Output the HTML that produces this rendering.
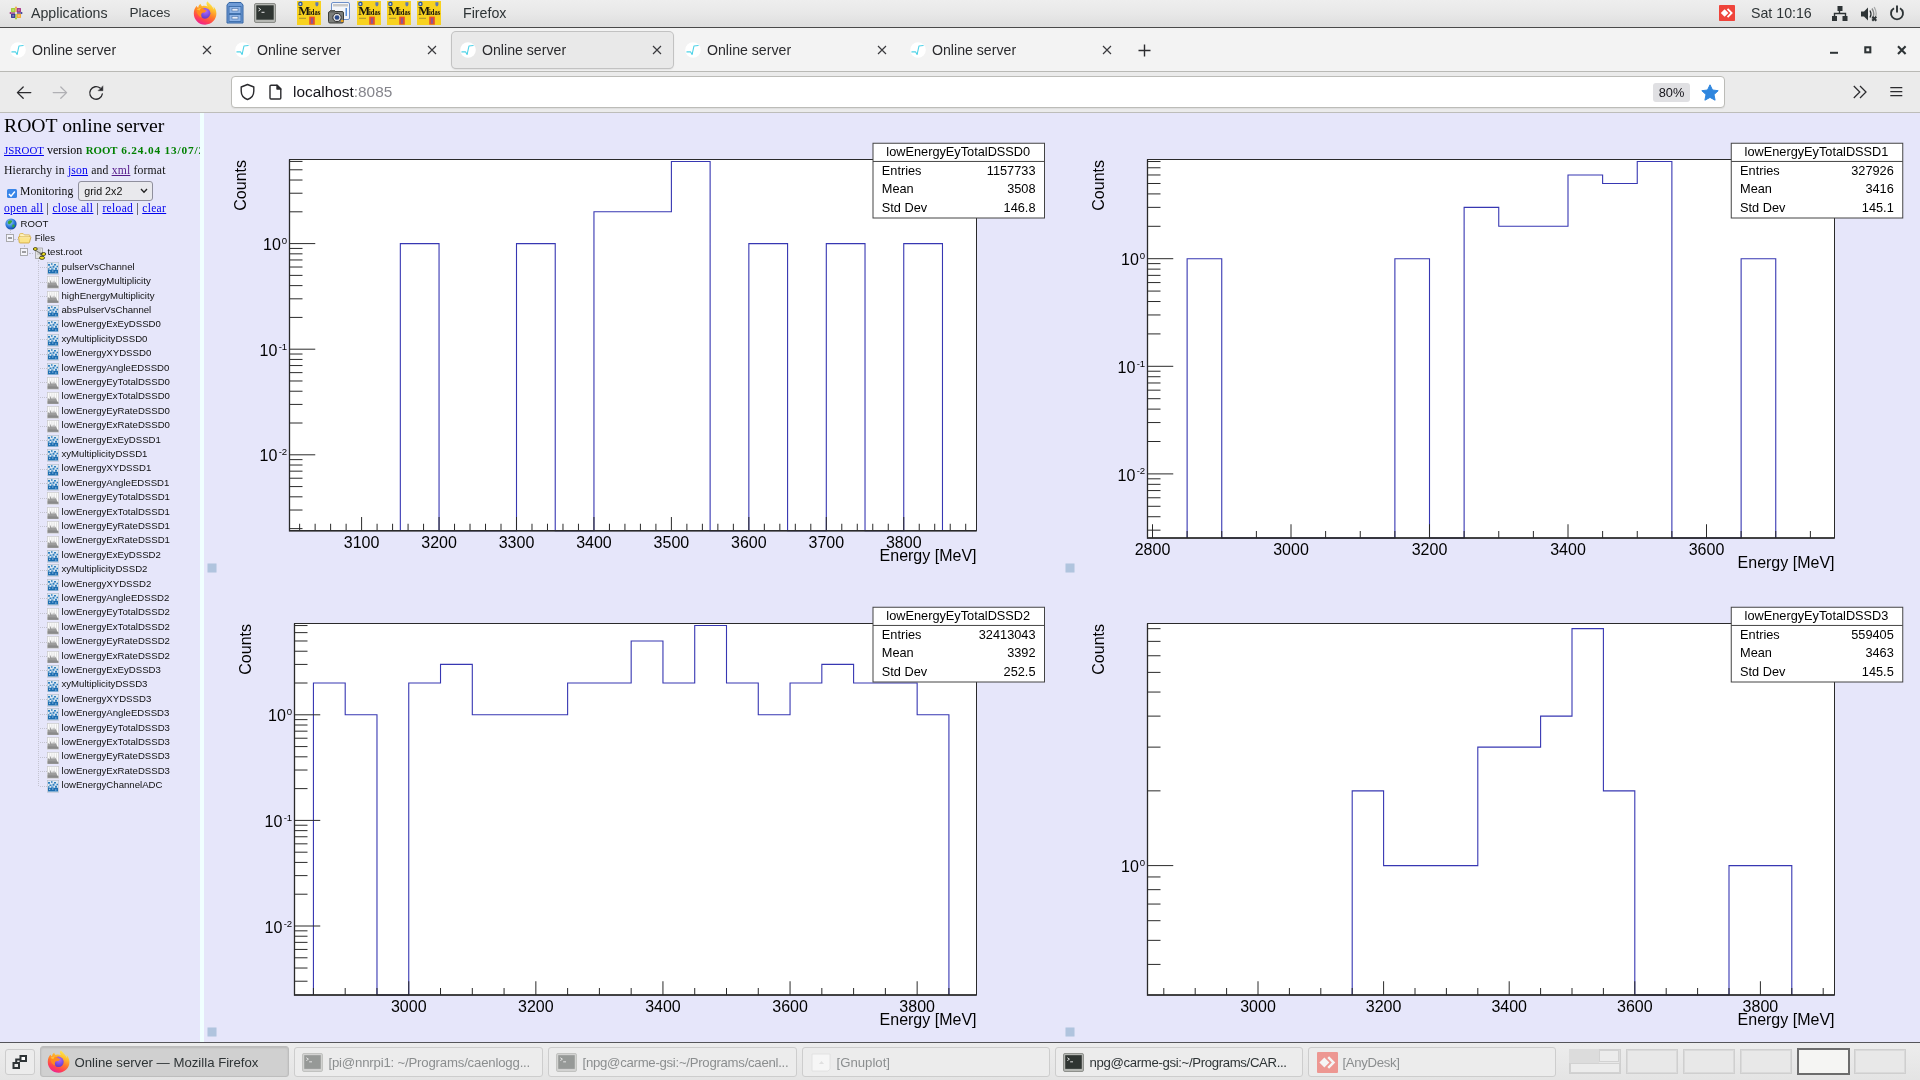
<!DOCTYPE html><html><head><meta charset="utf-8"><title>Online server</title><style>
*{box-sizing:border-box}
html,body{margin:0;padding:0}
body{width:1920px;height:1080px;overflow:hidden;position:relative;background:#e6e6fa;font-family:"Liberation Sans",sans-serif;color:#000}
.abs{position:absolute}
#root{position:absolute;left:0;top:0;width:1920px;height:1080px;overflow:hidden;will-change:transform;opacity:.9999}
#gnome{left:0;top:0;width:1920px;height:28px;background:linear-gradient(#eeeeee,#e8e8e8 50%,#dedede);border-bottom:1px solid #4a4a4a}
#gnome .t{position:absolute;top:0;height:27px;line-height:26px;font-size:14.2px;color:#2e3436;white-space:nowrap}
#tabs{left:0;top:28px;width:1920px;height:44px;background:#f3f3f3;border-bottom:1px solid #b9b9b5}
.tab{position:absolute;top:4px;height:36px;width:222px;border-radius:4px}
.tab.act{background:#e9e9e9;box-shadow:0 0 0 1px #c2c2c2, 0 1px 2px rgba(0,0,0,.22)}
.tab .ttl{position:absolute;left:30px;top:0;line-height:36px;font-size:14.15px;color:#2b2b2e;white-space:nowrap}
.tab svg.fav{position:absolute;left:7.600px;top:10.200px}
.tab svg.x{position:absolute;left:200px;top:13px}
#nav{left:0;top:72px;width:1920px;height:41px;background:#ebebeb;border-bottom:1px solid #bdbdb9}
#url{left:231px;top:4px;width:1494px;height:32px;background:#fff;border:1px solid #bcbcb8;border-radius:4px;box-shadow:0 1px 1px rgba(0,0,0,.06)}
#side{left:0;top:113px;width:200px;height:930px;overflow:hidden;background:#e6e6fa;font-family:"Liberation Serif",serif}
#sep{left:200px;top:113px;width:4.300px;height:930px;background:#f0ffff}
#side a{color:#0000ee;text-decoration:underline}
.tr{position:absolute;left:0;height:14.4px;line-height:14.4px;font-family:"Liberation Sans",sans-serif;font-size:9.62px;color:#111;white-space:nowrap}
#task{left:0;top:1042px;width:1920px;height:38px;background:linear-gradient(#ededed,#e4e4e4);border-top:1px solid #55555a}
.tb{position:absolute;top:4px;height:30px;border:1px solid #cdcdcd;border-radius:3px;background:#ececec;font-size:13.2px;line-height:28px;color:#8b8e8f;white-space:nowrap;overflow:hidden}
.tb span{position:absolute;left:34px;top:0}
.tb svg{position:absolute;left:7px;top:4px}
.ws{position:absolute;top:6px;width:52px;height:25px;border:1px solid #cfcfcf;background:#e8e8e8;box-shadow:inset 0 0 0 1px #dadada}
</style></head><body><div id="root">
<div id="gnome" class="abs">
<svg class="abs" style="left:8.500px;top:6.300px" width="14" height="14" viewBox="-7 -7 14 14">
<rect x="-4.900" y="-4.900" width="4.300" height="4.300" fill="#9ccd2a"/>
<rect x=".6" y="-4.900" width="4.300" height="4.300" fill="#a2287f"/>
<rect x="-4.900" y=".6" width="4.300" height="4.300" fill="#2c2f8f"/>
<rect x=".6" y=".6" width="4.300" height="4.300" fill="#f3a62a"/>
<path d="M0 0 V-6" stroke="#f3a62a" stroke-width="1"/><path d="M-1.300 -5.200 L0 -6.800 L1.300 -5.200z" fill="#f3a62a"/>
<path d="M0 0 V6" stroke="#9ccd2a" stroke-width="1"/><path d="M-1.300 5.200 L0 6.800 L1.300 5.200z" fill="#9ccd2a"/>
<path d="M0 0 H-6" stroke="#a2287f" stroke-width="1"/><path d="M-5.200 -1.300 L-6.800 0 L-5.200 1.300z" fill="#a2287f"/>
<path d="M0 0 H6" stroke="#2c2f8f" stroke-width="1"/><path d="M5.200 -1.300 L6.800 0 L5.200 1.300z" fill="#2c2f8f"/>
<g fill="#fff" opacity=".35"><rect x="-3.800" y="-3.800" width="2.100" height="2.100"/><rect x="1.700" y="-3.800" width="2.100" height="2.100"/><rect x="-3.800" y="1.700" width="2.100" height="2.100"/><rect x="1.700" y="1.700" width="2.100" height="2.100"/></g>
<circle r="1.100" fill="#f4f4f4"/></svg>
<div class="t" style="left:31px">Applications</div>
<div class="t" style="left:129.5px;font-size:13.6px">Places</div>
<div class="t" style="left:463px">Firefox</div>
<div class="t" style="left:1751px">Sat 10:16</div>
<svg class="abs" style="left:193px;top:1px" width="24" height="24" viewBox="0 0 24 24">
<defs><linearGradient id="ffa193" x1=".75" y1="0" x2=".3" y2="1"><stop offset="0" stop-color="#fff45a"/><stop offset=".28" stop-color="#ffc02e"/><stop offset=".55" stop-color="#ff7a2a"/><stop offset=".8" stop-color="#ff3f55"/><stop offset="1" stop-color="#ea1f9a"/></linearGradient>
<radialGradient id="ffb193" cx=".55" cy=".3" r=".75"><stop offset="0" stop-color="#b06bff"/><stop offset="1" stop-color="#5a35c8"/></radialGradient></defs>
<path d="M14.300 .2 C13 2.200 13.400 4 14.800 5.600 C13.200 4.600 10.800 4.400 9.200 5.200 C8.200 4.600 7.600 3.600 7.600 2.800 C5.800 3.800 5.200 5.600 5.300 6.800 C4.600 6.600 3.800 5.600 3.700 4.800 C1.800 6.800 .8 9.600 .8 12.400 C.8 18.700 5.900 23.700 12.200 23.700 C18.500 23.700 23.400 18.700 23.400 12.600 C23.400 9.400 22 6.800 20.400 5.200 C20.800 6.400 20.800 7.600 20.600 8.400 C19.800 5.200 17.200 3.400 14.300 .2z" fill="url(#ffa193)"/>
<circle cx="12" cy="12.300" r="5.400" fill="url(#ffb193)"/>
<path d="M3.600 8.400 C5.600 6.600 9 6.400 11.200 8.200 C12.200 9 12.800 9.600 14.400 9.800 C13 10.300 12.200 10.800 11.800 11.800 C10.200 11.200 8.400 12 8.200 13.800 C8.100 15 8.600 16 9.200 16.600 C6 15.800 3.400 12.600 3.600 8.400z" fill="#ff8a1f"/>
<path d="M3.600 8.400 C4.800 7.200 6.800 6.600 8.600 7 C7.400 7.600 6.800 8.600 6.800 9.600 C5.600 9 4.400 8.700 3.600 8.400z" fill="#ffc03a"/>
</svg>
<svg class="abs" style="left:225px;top:2px" width="20" height="22" viewBox="0 0 20 22">
<path d="M2 3 L4 0.500 H16 L18 3 V21 H2z" fill="#6f9bd6" stroke="#3465a4" stroke-width="1"/>
<rect x="4" y="4.500" width="12" height="7" fill="#8db3e6" stroke="#3465a4" stroke-width=".8"/>
<rect x="4" y="12.500" width="12" height="7" fill="#8db3e6" stroke="#3465a4" stroke-width=".8"/>
<rect x="7" y="6.500" width="6" height="2.500" fill="#e8eef8" stroke="#4a6fa5" stroke-width=".6"/>
<rect x="7" y="14.500" width="6" height="2.500" fill="#e8eef8" stroke="#4a6fa5" stroke-width=".6"/></svg>
<svg class="abs" style="left:254px;top:2.5px;opacity:1" width="22" height="20" viewBox="0 0 22 20">
<rect x=".5" y=".5" width="21" height="19" rx="1.500" fill="#b5b7b3" stroke="#8a8c88"/>
<rect x="2.300" y="2.300" width="17.400" height="14.400" fill="#2f3532"/>
<path d="M4.500 5 l2.200 1.500 -2.200 1.500 M7.500 9.300 h3" stroke="#e8e8e8" stroke-width="1" fill="none"/></svg>
<svg class="abs" style="left:297px;top:1px" width="24" height="24" viewBox="0 0 24 24">
<rect width="24" height="24" fill="#f8d21f"/>
<circle cx="3.400" cy="2.900" r="2.300" fill="#2f5aa0"/><circle cx="3.400" cy="2.900" r="1" fill="#c8d8f0"/>
<path d="M18.400 1.200 h3 v2.200 q0 1.600 -1.500 2.200 q-1.500 -.6 -1.500 -2.200z" fill="#5f78b8"/>
<text x="1.200" y="14.300" font-family="Liberation Serif" font-weight="bold" font-size="12.500" fill="#15150f">M</text>
<text x="12" y="14.300" font-family="Liberation Serif" font-weight="bold" font-size="7.200" fill="#15150f" textLength="11.300" lengthAdjust="spacingAndGlyphs">idas</text>
<rect x="2" y="16.800" width="7" height=".9" fill="#9a8a3a"/>
<rect x="12.200" y="15.600" width="5.600" height="8" fill="#e2502c"/><rect x="14.200" y="17" width="1.600" height="5.600" fill="#7a5aa8"/></svg>
<svg class="abs" style="left:357px;top:1px" width="24" height="24" viewBox="0 0 24 24">
<rect width="24" height="24" fill="#f8d21f"/>
<circle cx="3.400" cy="2.900" r="2.300" fill="#2f5aa0"/><circle cx="3.400" cy="2.900" r="1" fill="#c8d8f0"/>
<path d="M18.400 1.200 h3 v2.200 q0 1.600 -1.500 2.200 q-1.500 -.6 -1.500 -2.200z" fill="#5f78b8"/>
<text x="1.200" y="14.300" font-family="Liberation Serif" font-weight="bold" font-size="12.500" fill="#15150f">M</text>
<text x="12" y="14.300" font-family="Liberation Serif" font-weight="bold" font-size="7.200" fill="#15150f" textLength="11.300" lengthAdjust="spacingAndGlyphs">idas</text>
<rect x="2" y="16.800" width="7" height=".9" fill="#9a8a3a"/>
<rect x="12.200" y="15.600" width="5.600" height="8" fill="#e2502c"/><rect x="14.200" y="17" width="1.600" height="5.600" fill="#7a5aa8"/></svg>
<svg class="abs" style="left:387px;top:1px" width="24" height="24" viewBox="0 0 24 24">
<rect width="24" height="24" fill="#f8d21f"/>
<circle cx="3.400" cy="2.900" r="2.300" fill="#2f5aa0"/><circle cx="3.400" cy="2.900" r="1" fill="#c8d8f0"/>
<path d="M18.400 1.200 h3 v2.200 q0 1.600 -1.500 2.200 q-1.500 -.6 -1.500 -2.200z" fill="#5f78b8"/>
<text x="1.200" y="14.300" font-family="Liberation Serif" font-weight="bold" font-size="12.500" fill="#15150f">M</text>
<text x="12" y="14.300" font-family="Liberation Serif" font-weight="bold" font-size="7.200" fill="#15150f" textLength="11.300" lengthAdjust="spacingAndGlyphs">idas</text>
<rect x="2" y="16.800" width="7" height=".9" fill="#9a8a3a"/>
<rect x="12.200" y="15.600" width="5.600" height="8" fill="#e2502c"/><rect x="14.200" y="17" width="1.600" height="5.600" fill="#7a5aa8"/></svg>
<svg class="abs" style="left:417px;top:1px" width="24" height="24" viewBox="0 0 24 24">
<rect width="24" height="24" fill="#f8d21f"/>
<circle cx="3.400" cy="2.900" r="2.300" fill="#2f5aa0"/><circle cx="3.400" cy="2.900" r="1" fill="#c8d8f0"/>
<path d="M18.400 1.200 h3 v2.200 q0 1.600 -1.500 2.200 q-1.500 -.6 -1.500 -2.200z" fill="#5f78b8"/>
<text x="1.200" y="14.300" font-family="Liberation Serif" font-weight="bold" font-size="12.500" fill="#15150f">M</text>
<text x="12" y="14.300" font-family="Liberation Serif" font-weight="bold" font-size="7.200" fill="#15150f" textLength="11.300" lengthAdjust="spacingAndGlyphs">idas</text>
<rect x="2" y="16.800" width="7" height=".9" fill="#9a8a3a"/>
<rect x="12.200" y="15.600" width="5.600" height="8" fill="#e2502c"/><rect x="14.200" y="17" width="1.600" height="5.600" fill="#7a5aa8"/></svg>
<svg class="abs" style="left:328px;top:2px" width="22" height="22" viewBox="0 0 22 22">
<rect x="3.500" y=".5" width="18" height="17" rx="1.500" fill="#f4f6fa" stroke="#6d8fc8"/>
<rect x="5" y="2" width="15" height="2.500" fill="#c9c9c9"/>
<rect x="17.500" y="6" width="1.500" height="8" fill="#5a8fd8"/>
<rect x=".5" y="9.500" width="15" height="11.500" rx="1.500" fill="#7b7d7a" stroke="#3c3e3b"/>
<rect x="2" y="8" width="5" height="2.500" fill="#5b5d5a"/>
<circle cx="9" cy="15.500" r="4.200" fill="#d9d9d9" stroke="#2e2e2e"/><circle cx="9" cy="15.500" r="2.300" fill="#2b4a8a"/>
<rect x="13" y="18" width="2.500" height="2" fill="#e8a020"/></svg>
<svg class="abs" style="left:1719px;top:5px;opacity:1" width="16" height="16" viewBox="0 0 16 16">
<rect width="16" height="16" rx=".8" fill="#ef443b"/>
<path d="M5.600 4.200 L9.400 8 L5.600 11.800 L1.800 8z" fill="#fff"/>
<path d="M9.200 3.300 L13.900 8 L9.200 12.700 L7.900 11.400 L11.300 8 L7.900 4.600z" fill="#fff"/></svg>
<svg class="abs" style="left:1832px;top:6px" width="16" height="16" viewBox="0 0 16 16" fill="#2e3436">
<rect x="5.500" y="0" width="5" height="5"/><rect x="0" y="10" width="5" height="5"/><rect x="10.500" y="10" width="5" height="5"/>
<path d="M7.500 5 v3 M2.500 10 v-2.500 h11 v2.500" stroke="#2e3436" stroke-width="1.400" fill="none"/></svg>
<svg class="abs" style="left:1860px;top:6px" width="18" height="16" viewBox="0 0 18 16">
<path d="M1 5.500 h3 l4-4 v13 l-4-4 h-3z" fill="#2e3436"/>
<path d="M10 4.500 q2 3.500 0 7" stroke="#2e3436" stroke-width="1.300" fill="none"/>
<path d="M12 2.500 q3.500 5.500 0 11" stroke="#8a8c8c" stroke-width="1.400" fill="none"/>
<path d="M14.200 1 q4 7 0 13" stroke="#a8aaaa" stroke-width="1.300" fill="none"/>
<path d="M12.300 10.800 l4 4 M16.300 10.800 l-4 4" stroke="#2e3436" stroke-width="2"/></svg>
<svg class="abs" style="left:1889px;top:5px" width="16" height="16" viewBox="0 0 16 16" fill="none" stroke="#2e3436" stroke-width="1.900">
<path d="M5 3.200 A6 6 0 1 0 11 3.200"/><path d="M8 .5 v7"/></svg>
</div>
<div id="tabs" class="abs">
<div class="tab" style="left:2px;width:222px"><div style="position:absolute;left:0px;top:0;width:222px;height:36px"><svg class="fav" width="16" height="16" viewBox="0 0 17 17"><circle cx="8.500" cy="8.500" r="8.300" fill="#fff"/>
<path d="M2 10.500 L6 10.500 L7.500 13.300 L9.500 4.300 L14 3.800" fill="none" stroke="#4fd3e8" stroke-width="1.150" stroke-linejoin="round" stroke-linecap="round"/></svg><div class="ttl">Online server</div><svg class="x" width="10" height="10" viewBox="0 0 10 10"><path d="M1 1 L9 9 M9 1 L1 9" stroke="#3a3a3e" stroke-width="1.150" fill="none"/></svg></div></div>
<div class="tab" style="left:227px;width:222px"><div style="position:absolute;left:0px;top:0;width:222px;height:36px"><svg class="fav" width="16" height="16" viewBox="0 0 17 17"><circle cx="8.500" cy="8.500" r="8.300" fill="#fff"/>
<path d="M2 10.500 L6 10.500 L7.500 13.300 L9.500 4.300 L14 3.800" fill="none" stroke="#4fd3e8" stroke-width="1.150" stroke-linejoin="round" stroke-linecap="round"/></svg><div class="ttl">Online server</div><svg class="x" width="10" height="10" viewBox="0 0 10 10"><path d="M1 1 L9 9 M9 1 L1 9" stroke="#3a3a3e" stroke-width="1.150" fill="none"/></svg></div></div>
<div class="tab act" style="left:452px;width:221px"><div style="position:absolute;left:0px;top:0;width:222px;height:36px"><svg class="fav" width="16" height="16" viewBox="0 0 17 17"><circle cx="8.500" cy="8.500" r="8.300" fill="#fff"/>
<path d="M2 10.500 L6 10.500 L7.500 13.300 L9.500 4.300 L14 3.800" fill="none" stroke="#4fd3e8" stroke-width="1.150" stroke-linejoin="round" stroke-linecap="round"/></svg><div class="ttl">Online server</div><svg class="x" width="10" height="10" viewBox="0 0 10 10"><path d="M1 1 L9 9 M9 1 L1 9" stroke="#3a3a3e" stroke-width="1.150" fill="none"/></svg></div></div>
<div class="tab" style="left:677px;width:222px"><div style="position:absolute;left:0px;top:0;width:222px;height:36px"><svg class="fav" width="16" height="16" viewBox="0 0 17 17"><circle cx="8.500" cy="8.500" r="8.300" fill="#fff"/>
<path d="M2 10.500 L6 10.500 L7.500 13.300 L9.500 4.300 L14 3.800" fill="none" stroke="#4fd3e8" stroke-width="1.150" stroke-linejoin="round" stroke-linecap="round"/></svg><div class="ttl">Online server</div><svg class="x" width="10" height="10" viewBox="0 0 10 10"><path d="M1 1 L9 9 M9 1 L1 9" stroke="#3a3a3e" stroke-width="1.150" fill="none"/></svg></div></div>
<div class="tab" style="left:902px;width:222px"><div style="position:absolute;left:0px;top:0;width:222px;height:36px"><svg class="fav" width="16" height="16" viewBox="0 0 17 17"><circle cx="8.500" cy="8.500" r="8.300" fill="#fff"/>
<path d="M2 10.500 L6 10.500 L7.500 13.300 L9.500 4.300 L14 3.800" fill="none" stroke="#4fd3e8" stroke-width="1.150" stroke-linejoin="round" stroke-linecap="round"/></svg><div class="ttl">Online server</div><svg class="x" width="10" height="10" viewBox="0 0 10 10"><path d="M1 1 L9 9 M9 1 L1 9" stroke="#3a3a3e" stroke-width="1.150" fill="none"/></svg></div></div>
<svg class="abs" style="left:1137px;top:15px" width="15" height="15" viewBox="0 0 15 15"><path d="M7.500 1.500 v12 M1.500 7.500 h12" stroke="#2b2b2e" stroke-width="1.400"/></svg>
<svg class="abs" style="left:1826px;top:12px" width="90" height="20" viewBox="0 0 90 20" fill="none" stroke="#2e3436"><path d="M4 12.800 h8" stroke-width="2"/><rect x="39.300" y="7.300" width="5" height="5" stroke-width="2.100"/><path d="M72 6.300 l7.600 7.600 M79.600 6.300 l-7.600 7.600" stroke-width="2.100"/></svg>
</div>
<div id="nav" class="abs">
<svg class="abs" style="left:14px;top:10px" width="100" height="22" viewBox="0 0 100 22" fill="none" stroke-linecap="round" stroke-linejoin="round">
<path d="M16.800 10.600 H3.600 M9.200 5 L3.400 10.600 L9.200 16.200" stroke="#2b2b2e" stroke-width="1.300"/>
<path d="M39.200 10.600 H52.400 M46.800 5 L52.600 10.600 L46.800 16.200" stroke="#b0b0b4" stroke-width="1.300"/>
<path d="M88.300 12 A6.300 6.300 0 1 1 86.100 6.100" stroke="#2b2b2e" stroke-width="1.350"/>
<path d="M88.900 4.200 V8.700 H84.400z" fill="#2b2b2e" stroke="#2b2b2e" stroke-width=".5"/>
</svg>
<div id="url" class="abs">
<svg class="abs" style="left:8px;top:5.800px" width="44" height="18" viewBox="0 0 44 18" fill="none" stroke="#2b2b2e" stroke-width="1.400" stroke-linejoin="round">
<path d="M7.500 1.500 L13.800 4 V8 C13.800 12.500 10.500 15.500 7.500 16.500 C4.500 15.500 1.200 12.500 1.200 8 V4z"/>
<path d="M31 2.200 h6 l3.800 3.800 v9 a1 1 0 0 1 -1 1 h-8.800 a1 1 0 0 1 -1 -1 v-11.800 a1 1 0 0 1 1 -1z"/><path d="M37 2.200 l3.800 3.800 h-3.800z" fill="#2b2b2e"/>
</svg>
<div class="abs" style="left:61px;top:-0.200px;line-height:29px;font-size:15.4px;color:#15141a;white-space:nowrap">localhost<span style="color:#85858c">:8085</span></div>
<div class="abs" style="left:1421px;top:5.500px;width:37px;height:19px;background:#e0e0e3;border-radius:3px;font-size:12.8px;line-height:20px;text-align:center;color:#15141a">80%</div>
<svg class="abs" style="left:1469px;top:6.500px" width="18" height="17" viewBox="0 0 18 17"><path d="M9 .8 L11.500 6 L17.200 6.700 L13 10.600 L14.100 16.200 L9 13.400 L3.900 16.200 L5 10.600 L.8 6.700 L6.500 6z" fill="#2f86de" stroke="#2f86de" stroke-width="1" stroke-linejoin="round"/></svg>
</div>
<svg class="abs" style="left:1850px;top:11px" width="56" height="18" viewBox="0 0 56 18" fill="none" stroke="#2b2b2e" stroke-width="1.250">
<path d="M3.800 3 L9.800 9 L3.800 15 M10 3 L16 9 L10 15" stroke-linejoin="miter"/>
<path d="M40.300 4.500 h12 M40.300 8.500 h12 M40.300 12.500 h12"/></svg>
</div>
<div id="side" class="abs">
<div class="abs" style="left:4px;top:-0.500px;font-size:19.700px;line-height:24px;white-space:nowrap">ROOT online server</div>
<div class="abs" style="left:4px;top:30.400px;font-size:10.900px;line-height:14px;white-space:nowrap"><a>JSROOT</a><span style="font-size:12px"> version </span><b style="color:#008000;font-size:10.800px;margin-left:.5px">ROOT</b><b style="color:#008000;font-size:11.300px;letter-spacing:.83px"> 6.24.04 13/07/2021</b></div>
<div class="abs" style="left:4px;top:50.500px;font-size:11.700px;line-height:14px;white-space:nowrap;color:#111;letter-spacing:.17px">Hierarchy in <a>json</a> and <a style="color:#551a8b">xml</a> format</div>
<div class="abs" style="left:7px;top:75.500px;width:9.600px;height:9.600px;background:#3a86e8;border-radius:1.500px"><svg width="9.600" height="9.600" viewBox="0 0 10 10" style="display:block"><path d="M2 5.200 L4.200 7.400 L8.200 2.600" fill="none" stroke="#fff" stroke-width="1.500"/></svg></div>
<div class="abs" style="left:20px;top:71.500px;font-size:11.700px;line-height:14px;white-space:nowrap;color:#111">Monitoring</div>
<div class="abs" style="left:78.300px;top:68px;width:74.400px;height:20px;border:1px solid #8f8f9d;border-radius:3px;background:#e9e9ed;font-family:'Liberation Sans',sans-serif;font-size:10.700px;line-height:18px;padding-left:5px;color:#111">grid 2x2<svg class="abs" style="right:4px;top:6px" width="8" height="6" viewBox="0 0 8 6"><path d="M1 1 L4 4.200 L7 1" fill="none" stroke="#222" stroke-width="1.300"/></svg></div>
<div class="abs" style="left:4px;top:88.300px;font-size:11.500px;line-height:14px;white-space:nowrap;color:#111;letter-spacing:.33px"><a>open all</a> | <a>close all</a> | <a>reload</a> | <a>clear</a></div>
<svg class="abs" style="left:5px;top:105px" width="12" height="12" viewBox="0 0 12 12">
<defs><radialGradient id="gl" cx=".4" cy=".35" r=".7"><stop offset="0" stop-color="#9ad0ff"/><stop offset=".6" stop-color="#2b78d8"/><stop offset="1" stop-color="#0b3a9a"/></radialGradient></defs>
<circle cx="6" cy="6" r="5.600" fill="url(#gl)"/>
<path d="M3 3.500 q2-2 4-.8 q.5 1.500 -1 2.300 q-1 1.800 -2.500 1 q-1.200-1 -.5-2.500z M7.500 6.500 q2-.5 2.300 1 q-.5 2-2 2.200 q-1-1.200 -.3-3.200z" fill="#3aa83a"/></svg>
<div class="tr" style="left:20.500px;top:103.800px">ROOT</div>
<div class="abs" style="left:9.500px;top:117px;width:0;height:5px;border-left:1px dotted #c3c3cf"></div>
<svg class="abs" style="left:5.8px;top:121px" width="8" height="8" viewBox="0 0 8 8"><rect x=".5" y=".5" width="7" height="7" fill="#f4f4fb" stroke="#9a9a9a" stroke-width=".8"/><path d="M2 4 h4" stroke="#333" stroke-width=".9"/></svg>
<div class="abs" style="left:14px;top:125.500px;width:4px;height:0;border-top:1px dotted #c3c3cf"></div>
<svg class="abs" style="left:18px;top:118.800px" width="14" height="12" viewBox="0 0 14 12">
<path d="M1.600 9.500 V2.600 q0-1 1-1 h2.600 l1.200 1.300 h4.600 q1 0 1 1 v1.200" fill="#fdf3c0" stroke="#d6a62a" stroke-width=".7"/>
<path d="M.5 4.900 h11.800 q.7 0 .5.700 l-1.300 4.700 q-.2.700-.9.700 H2 q-.7 0-.8-.7z" fill="#fbe48a" stroke="#c9981f" stroke-width=".7"/>
<path d="M1.200 5.600 h11" stroke="#fff6cc" stroke-width=".6"/></svg>
<div class="tr" style="left:34.700px;top:118.200px">Files</div>
<div class="abs" style="left:23.800px;top:132px;width:0;height:4px;border-left:1px dotted #c3c3cf"></div>
<svg class="abs" style="left:20.2px;top:135.4px" width="8" height="8" viewBox="0 0 8 8"><rect x=".5" y=".5" width="7" height="7" fill="#f4f4fb" stroke="#9a9a9a" stroke-width=".8"/><path d="M2 4 h4" stroke="#333" stroke-width=".9"/></svg>
<div class="abs" style="left:28.500px;top:139.800px;width:4px;height:0;border-top:1px dotted #c3c3cf"></div>
<svg class="abs" style="left:33px;top:134px" width="14" height="13" viewBox="0 0 14 13">
<rect x="2.500" y="1" width="7" height="10.500" fill="#e4e4e4" stroke="#8a8a8a" stroke-width=".6"/>
<path d="M4 3 h4 M4 5 h4 M4 7 h4" stroke="#9a9a9a" stroke-width=".6"/>
<ellipse cx="2.300" cy="2" rx="2" ry="1.400" fill="#f0e020" stroke="#1a1a00" stroke-width=".7"/>
<ellipse cx="10.500" cy="7" rx="2.300" ry="1.500" fill="#f0e020" stroke="#1a1a00" stroke-width=".7"/>
<ellipse cx="9" cy="10.800" rx="2.600" ry="1.600" fill="#f0e020" stroke="#1a1a00" stroke-width=".7"/>
<path d="M2.500 3.500 L7 6 L10 6.500 M7 6 L8.500 9.500" stroke="#333" stroke-width=".6" fill="none"/></svg>
<div class="tr" style="left:47.400px;top:132.300px">test.root</div>
<div class="abs" style="left:37.900px;top:147px;width:0;height:525.8px;border-left:1px dotted #c3c3cf"></div>
<div class="abs" style="left:39.500px;top:154.2px;width:7px;height:0;border-top:1px dotted #c3c3cf"></div>
<svg class="abs" style="left:47.3px;top:149.0px" width="12" height="12.500" viewBox="0 0 12 12" preserveAspectRatio="none">
<rect x=".3" y=".3" width="11.400" height="11.400" fill="#dfe9f3" stroke="#b4bcc8" stroke-width=".6"/>
<rect x="1" y="7.500" width="10" height="3.500" fill="#1c6db0"/>
<path d="M1 2 h2 v1.500 h-2z M4 1.200 h1.500 v1.500 h-1.500z M7 2 h2 v1.300 h-2z M9.500 3.500 h1.500 v1.500 h-1.500z M2.500 4.200 h2 v1.500 h-2z M5.500 3.500 h2 v2 h-2z M1 6 h1.500 v1.500 h-1.500z M8 5.500 h2 v2 h-2z M4 6.300 h2.500 v1.200 h-2.500z" fill="#2f80c0"/>
<path d="M2 8.500 h1.200 v1 h-1.200z M5 8.200 h1.500 v1 h-1.500z M8 9 h1.500 v1 h-1.500z" fill="#9cc4e4"/></svg>
<div class="tr" style="left:61.500px;top:146.8px">pulserVsChannel</div>
<div class="abs" style="left:39.500px;top:168.6px;width:7px;height:0;border-top:1px dotted #c3c3cf"></div>
<svg class="abs" style="left:47.3px;top:163.4px" width="12" height="12.500" viewBox="0 0 12 12.500">
<rect x=".3" y=".3" width="11.400" height="11.900" fill="#fbfbfb" stroke="#c4c4c4" stroke-width=".6"/>
<path d="M2.600 1.300 v5 M4.900 1.300 v5 M7.200 1.300 v5 M9.500 1.300 v5" stroke="#dcdcdc" stroke-width=".8"/>
<path d="M.7 11.800 V7.200 L1.800 6 L2.600 7.600 L3.500 3.800 L4.400 7 L5.200 5.200 L6 7.400 L7 4.200 L7.900 7.200 L8.800 5.600 L9.800 8 L10.400 9.800 L11.300 10.200 V11.800z" fill="#9b9b9b"/>
<path d="M.7 11.800 V9.300 L10.200 9.600 L11.300 10.400 V11.800z" fill="#8a8a8a"/></svg>
<div class="tr" style="left:61.500px;top:161.2px">lowEnergyMultiplicity</div>
<div class="abs" style="left:39.500px;top:183.0px;width:7px;height:0;border-top:1px dotted #c3c3cf"></div>
<svg class="abs" style="left:47.3px;top:177.8px" width="12" height="12.500" viewBox="0 0 12 12.500">
<rect x=".3" y=".3" width="11.400" height="11.900" fill="#fbfbfb" stroke="#c4c4c4" stroke-width=".6"/>
<path d="M2.600 1.300 v5 M4.900 1.300 v5 M7.200 1.300 v5 M9.500 1.300 v5" stroke="#dcdcdc" stroke-width=".8"/>
<path d="M.7 11.800 V7.200 L1.800 6 L2.600 7.600 L3.500 3.800 L4.400 7 L5.200 5.200 L6 7.400 L7 4.200 L7.900 7.200 L8.800 5.600 L9.800 8 L10.400 9.800 L11.300 10.200 V11.800z" fill="#9b9b9b"/>
<path d="M.7 11.800 V9.300 L10.200 9.600 L11.300 10.400 V11.800z" fill="#8a8a8a"/></svg>
<div class="tr" style="left:61.500px;top:175.6px">highEnergyMultiplicity</div>
<div class="abs" style="left:39.500px;top:197.4px;width:7px;height:0;border-top:1px dotted #c3c3cf"></div>
<svg class="abs" style="left:47.3px;top:192.2px" width="12" height="12.500" viewBox="0 0 12 12" preserveAspectRatio="none">
<rect x=".3" y=".3" width="11.400" height="11.400" fill="#dfe9f3" stroke="#b4bcc8" stroke-width=".6"/>
<rect x="1" y="7.500" width="10" height="3.500" fill="#1c6db0"/>
<path d="M1 2 h2 v1.500 h-2z M4 1.200 h1.500 v1.500 h-1.500z M7 2 h2 v1.300 h-2z M9.500 3.500 h1.500 v1.500 h-1.500z M2.500 4.200 h2 v1.500 h-2z M5.500 3.500 h2 v2 h-2z M1 6 h1.500 v1.500 h-1.500z M8 5.500 h2 v2 h-2z M4 6.300 h2.500 v1.200 h-2.500z" fill="#2f80c0"/>
<path d="M2 8.500 h1.200 v1 h-1.200z M5 8.200 h1.500 v1 h-1.500z M8 9 h1.500 v1 h-1.500z" fill="#9cc4e4"/></svg>
<div class="tr" style="left:61.500px;top:190.0px">absPulserVsChannel</div>
<div class="abs" style="left:39.500px;top:211.8px;width:7px;height:0;border-top:1px dotted #c3c3cf"></div>
<svg class="abs" style="left:47.3px;top:206.6px" width="12" height="12.500" viewBox="0 0 12 12" preserveAspectRatio="none">
<rect x=".3" y=".3" width="11.400" height="11.400" fill="#dfe9f3" stroke="#b4bcc8" stroke-width=".6"/>
<rect x="1" y="7.500" width="10" height="3.500" fill="#1c6db0"/>
<path d="M1 2 h2 v1.500 h-2z M4 1.200 h1.500 v1.500 h-1.500z M7 2 h2 v1.300 h-2z M9.500 3.500 h1.500 v1.500 h-1.500z M2.500 4.200 h2 v1.500 h-2z M5.500 3.500 h2 v2 h-2z M1 6 h1.500 v1.500 h-1.500z M8 5.500 h2 v2 h-2z M4 6.300 h2.500 v1.200 h-2.500z" fill="#2f80c0"/>
<path d="M2 8.500 h1.200 v1 h-1.200z M5 8.200 h1.500 v1 h-1.500z M8 9 h1.500 v1 h-1.500z" fill="#9cc4e4"/></svg>
<div class="tr" style="left:61.500px;top:204.4px">lowEnergyExEyDSSD0</div>
<div class="abs" style="left:39.500px;top:226.2px;width:7px;height:0;border-top:1px dotted #c3c3cf"></div>
<svg class="abs" style="left:47.3px;top:221.0px" width="12" height="12.500" viewBox="0 0 12 12" preserveAspectRatio="none">
<rect x=".3" y=".3" width="11.400" height="11.400" fill="#dfe9f3" stroke="#b4bcc8" stroke-width=".6"/>
<rect x="1" y="7.500" width="10" height="3.500" fill="#1c6db0"/>
<path d="M1 2 h2 v1.500 h-2z M4 1.200 h1.500 v1.500 h-1.500z M7 2 h2 v1.300 h-2z M9.500 3.500 h1.500 v1.500 h-1.500z M2.500 4.200 h2 v1.500 h-2z M5.500 3.500 h2 v2 h-2z M1 6 h1.500 v1.500 h-1.500z M8 5.500 h2 v2 h-2z M4 6.300 h2.500 v1.200 h-2.500z" fill="#2f80c0"/>
<path d="M2 8.500 h1.200 v1 h-1.200z M5 8.200 h1.500 v1 h-1.500z M8 9 h1.500 v1 h-1.500z" fill="#9cc4e4"/></svg>
<div class="tr" style="left:61.500px;top:218.8px">xyMultiplicityDSSD0</div>
<div class="abs" style="left:39.500px;top:240.6px;width:7px;height:0;border-top:1px dotted #c3c3cf"></div>
<svg class="abs" style="left:47.3px;top:235.4px" width="12" height="12.500" viewBox="0 0 12 12" preserveAspectRatio="none">
<rect x=".3" y=".3" width="11.400" height="11.400" fill="#dfe9f3" stroke="#b4bcc8" stroke-width=".6"/>
<rect x="1" y="7.500" width="10" height="3.500" fill="#1c6db0"/>
<path d="M1 2 h2 v1.500 h-2z M4 1.200 h1.500 v1.500 h-1.500z M7 2 h2 v1.300 h-2z M9.500 3.500 h1.500 v1.500 h-1.500z M2.500 4.200 h2 v1.500 h-2z M5.500 3.500 h2 v2 h-2z M1 6 h1.500 v1.500 h-1.500z M8 5.500 h2 v2 h-2z M4 6.300 h2.500 v1.200 h-2.500z" fill="#2f80c0"/>
<path d="M2 8.500 h1.200 v1 h-1.200z M5 8.200 h1.500 v1 h-1.500z M8 9 h1.500 v1 h-1.500z" fill="#9cc4e4"/></svg>
<div class="tr" style="left:61.500px;top:233.2px">lowEnergyXYDSSD0</div>
<div class="abs" style="left:39.500px;top:255.0px;width:7px;height:0;border-top:1px dotted #c3c3cf"></div>
<svg class="abs" style="left:47.3px;top:249.8px" width="12" height="12.500" viewBox="0 0 12 12" preserveAspectRatio="none">
<rect x=".3" y=".3" width="11.400" height="11.400" fill="#dfe9f3" stroke="#b4bcc8" stroke-width=".6"/>
<rect x="1" y="7.500" width="10" height="3.500" fill="#1c6db0"/>
<path d="M1 2 h2 v1.500 h-2z M4 1.200 h1.500 v1.500 h-1.500z M7 2 h2 v1.300 h-2z M9.500 3.500 h1.500 v1.500 h-1.500z M2.500 4.200 h2 v1.500 h-2z M5.500 3.500 h2 v2 h-2z M1 6 h1.500 v1.500 h-1.500z M8 5.500 h2 v2 h-2z M4 6.300 h2.500 v1.200 h-2.500z" fill="#2f80c0"/>
<path d="M2 8.500 h1.200 v1 h-1.200z M5 8.200 h1.500 v1 h-1.500z M8 9 h1.500 v1 h-1.500z" fill="#9cc4e4"/></svg>
<div class="tr" style="left:61.500px;top:247.6px">lowEnergyAngleEDSSD0</div>
<div class="abs" style="left:39.500px;top:269.4px;width:7px;height:0;border-top:1px dotted #c3c3cf"></div>
<svg class="abs" style="left:47.3px;top:264.2px" width="12" height="12.500" viewBox="0 0 12 12.500">
<rect x=".3" y=".3" width="11.400" height="11.900" fill="#fbfbfb" stroke="#c4c4c4" stroke-width=".6"/>
<path d="M2.600 1.300 v5 M4.900 1.300 v5 M7.200 1.300 v5 M9.500 1.300 v5" stroke="#dcdcdc" stroke-width=".8"/>
<path d="M.7 11.800 V7.200 L1.800 6 L2.600 7.600 L3.500 3.800 L4.400 7 L5.200 5.200 L6 7.400 L7 4.200 L7.900 7.200 L8.800 5.600 L9.800 8 L10.400 9.800 L11.300 10.200 V11.800z" fill="#9b9b9b"/>
<path d="M.7 11.800 V9.300 L10.200 9.600 L11.300 10.400 V11.800z" fill="#8a8a8a"/></svg>
<div class="tr" style="left:61.500px;top:262.0px">lowEnergyEyTotalDSSD0</div>
<div class="abs" style="left:39.500px;top:283.8px;width:7px;height:0;border-top:1px dotted #c3c3cf"></div>
<svg class="abs" style="left:47.3px;top:278.6px" width="12" height="12.500" viewBox="0 0 12 12.500">
<rect x=".3" y=".3" width="11.400" height="11.900" fill="#fbfbfb" stroke="#c4c4c4" stroke-width=".6"/>
<path d="M2.600 1.300 v5 M4.900 1.300 v5 M7.200 1.300 v5 M9.500 1.300 v5" stroke="#dcdcdc" stroke-width=".8"/>
<path d="M.7 11.800 V7.200 L1.800 6 L2.600 7.600 L3.500 3.800 L4.400 7 L5.200 5.200 L6 7.400 L7 4.200 L7.900 7.200 L8.800 5.600 L9.800 8 L10.400 9.800 L11.300 10.200 V11.800z" fill="#9b9b9b"/>
<path d="M.7 11.800 V9.300 L10.200 9.600 L11.300 10.400 V11.800z" fill="#8a8a8a"/></svg>
<div class="tr" style="left:61.500px;top:276.4px">lowEnergyExTotalDSSD0</div>
<div class="abs" style="left:39.500px;top:298.2px;width:7px;height:0;border-top:1px dotted #c3c3cf"></div>
<svg class="abs" style="left:47.3px;top:293.0px" width="12" height="12.500" viewBox="0 0 12 12.500">
<rect x=".3" y=".3" width="11.400" height="11.900" fill="#fbfbfb" stroke="#c4c4c4" stroke-width=".6"/>
<path d="M2.600 1.300 v5 M4.900 1.300 v5 M7.200 1.300 v5 M9.500 1.300 v5" stroke="#dcdcdc" stroke-width=".8"/>
<path d="M.7 11.800 V7.200 L1.800 6 L2.600 7.600 L3.500 3.800 L4.400 7 L5.200 5.200 L6 7.400 L7 4.200 L7.900 7.200 L8.800 5.600 L9.800 8 L10.400 9.800 L11.300 10.200 V11.800z" fill="#9b9b9b"/>
<path d="M.7 11.800 V9.300 L10.200 9.600 L11.300 10.400 V11.800z" fill="#8a8a8a"/></svg>
<div class="tr" style="left:61.500px;top:290.8px">lowEnergyEyRateDSSD0</div>
<div class="abs" style="left:39.500px;top:312.6px;width:7px;height:0;border-top:1px dotted #c3c3cf"></div>
<svg class="abs" style="left:47.3px;top:307.4px" width="12" height="12.500" viewBox="0 0 12 12.500">
<rect x=".3" y=".3" width="11.400" height="11.900" fill="#fbfbfb" stroke="#c4c4c4" stroke-width=".6"/>
<path d="M2.600 1.300 v5 M4.900 1.300 v5 M7.200 1.300 v5 M9.500 1.300 v5" stroke="#dcdcdc" stroke-width=".8"/>
<path d="M.7 11.800 V7.200 L1.800 6 L2.600 7.600 L3.500 3.800 L4.400 7 L5.200 5.200 L6 7.400 L7 4.200 L7.900 7.200 L8.800 5.600 L9.800 8 L10.400 9.800 L11.300 10.200 V11.800z" fill="#9b9b9b"/>
<path d="M.7 11.800 V9.300 L10.200 9.600 L11.300 10.400 V11.800z" fill="#8a8a8a"/></svg>
<div class="tr" style="left:61.500px;top:305.2px">lowEnergyExRateDSSD0</div>
<div class="abs" style="left:39.500px;top:327.0px;width:7px;height:0;border-top:1px dotted #c3c3cf"></div>
<svg class="abs" style="left:47.3px;top:321.8px" width="12" height="12.500" viewBox="0 0 12 12" preserveAspectRatio="none">
<rect x=".3" y=".3" width="11.400" height="11.400" fill="#dfe9f3" stroke="#b4bcc8" stroke-width=".6"/>
<rect x="1" y="7.500" width="10" height="3.500" fill="#1c6db0"/>
<path d="M1 2 h2 v1.500 h-2z M4 1.200 h1.500 v1.500 h-1.500z M7 2 h2 v1.300 h-2z M9.500 3.500 h1.500 v1.500 h-1.500z M2.500 4.200 h2 v1.500 h-2z M5.500 3.500 h2 v2 h-2z M1 6 h1.500 v1.500 h-1.500z M8 5.500 h2 v2 h-2z M4 6.300 h2.500 v1.200 h-2.500z" fill="#2f80c0"/>
<path d="M2 8.500 h1.200 v1 h-1.200z M5 8.200 h1.500 v1 h-1.500z M8 9 h1.500 v1 h-1.500z" fill="#9cc4e4"/></svg>
<div class="tr" style="left:61.500px;top:319.6px">lowEnergyExEyDSSD1</div>
<div class="abs" style="left:39.500px;top:341.4px;width:7px;height:0;border-top:1px dotted #c3c3cf"></div>
<svg class="abs" style="left:47.3px;top:336.2px" width="12" height="12.500" viewBox="0 0 12 12" preserveAspectRatio="none">
<rect x=".3" y=".3" width="11.400" height="11.400" fill="#dfe9f3" stroke="#b4bcc8" stroke-width=".6"/>
<rect x="1" y="7.500" width="10" height="3.500" fill="#1c6db0"/>
<path d="M1 2 h2 v1.500 h-2z M4 1.200 h1.500 v1.500 h-1.500z M7 2 h2 v1.300 h-2z M9.500 3.500 h1.500 v1.500 h-1.500z M2.500 4.200 h2 v1.500 h-2z M5.500 3.500 h2 v2 h-2z M1 6 h1.500 v1.500 h-1.500z M8 5.500 h2 v2 h-2z M4 6.300 h2.500 v1.200 h-2.500z" fill="#2f80c0"/>
<path d="M2 8.500 h1.200 v1 h-1.200z M5 8.200 h1.500 v1 h-1.500z M8 9 h1.500 v1 h-1.500z" fill="#9cc4e4"/></svg>
<div class="tr" style="left:61.500px;top:334.0px">xyMultiplicityDSSD1</div>
<div class="abs" style="left:39.500px;top:355.8px;width:7px;height:0;border-top:1px dotted #c3c3cf"></div>
<svg class="abs" style="left:47.3px;top:350.6px" width="12" height="12.500" viewBox="0 0 12 12" preserveAspectRatio="none">
<rect x=".3" y=".3" width="11.400" height="11.400" fill="#dfe9f3" stroke="#b4bcc8" stroke-width=".6"/>
<rect x="1" y="7.500" width="10" height="3.500" fill="#1c6db0"/>
<path d="M1 2 h2 v1.500 h-2z M4 1.200 h1.500 v1.500 h-1.500z M7 2 h2 v1.300 h-2z M9.500 3.500 h1.500 v1.500 h-1.500z M2.500 4.200 h2 v1.500 h-2z M5.500 3.500 h2 v2 h-2z M1 6 h1.500 v1.500 h-1.500z M8 5.500 h2 v2 h-2z M4 6.300 h2.500 v1.200 h-2.500z" fill="#2f80c0"/>
<path d="M2 8.500 h1.200 v1 h-1.200z M5 8.200 h1.500 v1 h-1.500z M8 9 h1.500 v1 h-1.500z" fill="#9cc4e4"/></svg>
<div class="tr" style="left:61.500px;top:348.4px">lowEnergyXYDSSD1</div>
<div class="abs" style="left:39.500px;top:370.2px;width:7px;height:0;border-top:1px dotted #c3c3cf"></div>
<svg class="abs" style="left:47.3px;top:365.0px" width="12" height="12.500" viewBox="0 0 12 12" preserveAspectRatio="none">
<rect x=".3" y=".3" width="11.400" height="11.400" fill="#dfe9f3" stroke="#b4bcc8" stroke-width=".6"/>
<rect x="1" y="7.500" width="10" height="3.500" fill="#1c6db0"/>
<path d="M1 2 h2 v1.500 h-2z M4 1.200 h1.500 v1.500 h-1.500z M7 2 h2 v1.300 h-2z M9.500 3.500 h1.500 v1.500 h-1.500z M2.500 4.200 h2 v1.500 h-2z M5.500 3.500 h2 v2 h-2z M1 6 h1.500 v1.500 h-1.500z M8 5.500 h2 v2 h-2z M4 6.300 h2.500 v1.200 h-2.500z" fill="#2f80c0"/>
<path d="M2 8.500 h1.200 v1 h-1.200z M5 8.200 h1.500 v1 h-1.500z M8 9 h1.500 v1 h-1.500z" fill="#9cc4e4"/></svg>
<div class="tr" style="left:61.500px;top:362.8px">lowEnergyAngleEDSSD1</div>
<div class="abs" style="left:39.500px;top:384.6px;width:7px;height:0;border-top:1px dotted #c3c3cf"></div>
<svg class="abs" style="left:47.3px;top:379.4px" width="12" height="12.500" viewBox="0 0 12 12.500">
<rect x=".3" y=".3" width="11.400" height="11.900" fill="#fbfbfb" stroke="#c4c4c4" stroke-width=".6"/>
<path d="M2.600 1.300 v5 M4.900 1.300 v5 M7.200 1.300 v5 M9.500 1.300 v5" stroke="#dcdcdc" stroke-width=".8"/>
<path d="M.7 11.800 V7.200 L1.800 6 L2.600 7.600 L3.500 3.800 L4.400 7 L5.200 5.200 L6 7.400 L7 4.200 L7.900 7.200 L8.800 5.600 L9.800 8 L10.400 9.800 L11.300 10.200 V11.800z" fill="#9b9b9b"/>
<path d="M.7 11.800 V9.300 L10.200 9.600 L11.300 10.400 V11.800z" fill="#8a8a8a"/></svg>
<div class="tr" style="left:61.500px;top:377.2px">lowEnergyEyTotalDSSD1</div>
<div class="abs" style="left:39.500px;top:399.0px;width:7px;height:0;border-top:1px dotted #c3c3cf"></div>
<svg class="abs" style="left:47.3px;top:393.8px" width="12" height="12.500" viewBox="0 0 12 12.500">
<rect x=".3" y=".3" width="11.400" height="11.900" fill="#fbfbfb" stroke="#c4c4c4" stroke-width=".6"/>
<path d="M2.600 1.300 v5 M4.900 1.300 v5 M7.200 1.300 v5 M9.500 1.300 v5" stroke="#dcdcdc" stroke-width=".8"/>
<path d="M.7 11.800 V7.200 L1.800 6 L2.600 7.600 L3.500 3.800 L4.400 7 L5.200 5.200 L6 7.400 L7 4.200 L7.900 7.200 L8.800 5.600 L9.800 8 L10.400 9.800 L11.300 10.200 V11.800z" fill="#9b9b9b"/>
<path d="M.7 11.800 V9.300 L10.200 9.600 L11.300 10.400 V11.800z" fill="#8a8a8a"/></svg>
<div class="tr" style="left:61.500px;top:391.6px">lowEnergyExTotalDSSD1</div>
<div class="abs" style="left:39.500px;top:413.4px;width:7px;height:0;border-top:1px dotted #c3c3cf"></div>
<svg class="abs" style="left:47.3px;top:408.2px" width="12" height="12.500" viewBox="0 0 12 12.500">
<rect x=".3" y=".3" width="11.400" height="11.900" fill="#fbfbfb" stroke="#c4c4c4" stroke-width=".6"/>
<path d="M2.600 1.300 v5 M4.900 1.300 v5 M7.200 1.300 v5 M9.500 1.300 v5" stroke="#dcdcdc" stroke-width=".8"/>
<path d="M.7 11.800 V7.200 L1.800 6 L2.600 7.600 L3.500 3.800 L4.400 7 L5.200 5.200 L6 7.400 L7 4.200 L7.900 7.200 L8.800 5.600 L9.800 8 L10.400 9.800 L11.300 10.200 V11.800z" fill="#9b9b9b"/>
<path d="M.7 11.800 V9.300 L10.200 9.600 L11.300 10.400 V11.800z" fill="#8a8a8a"/></svg>
<div class="tr" style="left:61.500px;top:406.0px">lowEnergyEyRateDSSD1</div>
<div class="abs" style="left:39.500px;top:427.8px;width:7px;height:0;border-top:1px dotted #c3c3cf"></div>
<svg class="abs" style="left:47.3px;top:422.6px" width="12" height="12.500" viewBox="0 0 12 12.500">
<rect x=".3" y=".3" width="11.400" height="11.900" fill="#fbfbfb" stroke="#c4c4c4" stroke-width=".6"/>
<path d="M2.600 1.300 v5 M4.900 1.300 v5 M7.200 1.300 v5 M9.500 1.300 v5" stroke="#dcdcdc" stroke-width=".8"/>
<path d="M.7 11.800 V7.200 L1.800 6 L2.600 7.600 L3.500 3.800 L4.400 7 L5.200 5.200 L6 7.400 L7 4.200 L7.900 7.200 L8.800 5.600 L9.800 8 L10.400 9.800 L11.300 10.200 V11.800z" fill="#9b9b9b"/>
<path d="M.7 11.800 V9.300 L10.200 9.600 L11.300 10.400 V11.800z" fill="#8a8a8a"/></svg>
<div class="tr" style="left:61.500px;top:420.4px">lowEnergyExRateDSSD1</div>
<div class="abs" style="left:39.500px;top:442.2px;width:7px;height:0;border-top:1px dotted #c3c3cf"></div>
<svg class="abs" style="left:47.3px;top:437.0px" width="12" height="12.500" viewBox="0 0 12 12" preserveAspectRatio="none">
<rect x=".3" y=".3" width="11.400" height="11.400" fill="#dfe9f3" stroke="#b4bcc8" stroke-width=".6"/>
<rect x="1" y="7.500" width="10" height="3.500" fill="#1c6db0"/>
<path d="M1 2 h2 v1.500 h-2z M4 1.200 h1.500 v1.500 h-1.500z M7 2 h2 v1.300 h-2z M9.500 3.500 h1.500 v1.500 h-1.500z M2.500 4.200 h2 v1.500 h-2z M5.500 3.500 h2 v2 h-2z M1 6 h1.500 v1.500 h-1.500z M8 5.500 h2 v2 h-2z M4 6.300 h2.500 v1.200 h-2.500z" fill="#2f80c0"/>
<path d="M2 8.500 h1.200 v1 h-1.200z M5 8.200 h1.500 v1 h-1.500z M8 9 h1.500 v1 h-1.500z" fill="#9cc4e4"/></svg>
<div class="tr" style="left:61.500px;top:434.8px">lowEnergyExEyDSSD2</div>
<div class="abs" style="left:39.500px;top:456.6px;width:7px;height:0;border-top:1px dotted #c3c3cf"></div>
<svg class="abs" style="left:47.3px;top:451.4px" width="12" height="12.500" viewBox="0 0 12 12" preserveAspectRatio="none">
<rect x=".3" y=".3" width="11.400" height="11.400" fill="#dfe9f3" stroke="#b4bcc8" stroke-width=".6"/>
<rect x="1" y="7.500" width="10" height="3.500" fill="#1c6db0"/>
<path d="M1 2 h2 v1.500 h-2z M4 1.200 h1.500 v1.500 h-1.500z M7 2 h2 v1.300 h-2z M9.500 3.500 h1.500 v1.500 h-1.500z M2.500 4.200 h2 v1.500 h-2z M5.500 3.500 h2 v2 h-2z M1 6 h1.500 v1.500 h-1.500z M8 5.500 h2 v2 h-2z M4 6.300 h2.500 v1.200 h-2.500z" fill="#2f80c0"/>
<path d="M2 8.500 h1.200 v1 h-1.200z M5 8.200 h1.500 v1 h-1.500z M8 9 h1.500 v1 h-1.500z" fill="#9cc4e4"/></svg>
<div class="tr" style="left:61.500px;top:449.2px">xyMultiplicityDSSD2</div>
<div class="abs" style="left:39.500px;top:471.0px;width:7px;height:0;border-top:1px dotted #c3c3cf"></div>
<svg class="abs" style="left:47.3px;top:465.8px" width="12" height="12.500" viewBox="0 0 12 12" preserveAspectRatio="none">
<rect x=".3" y=".3" width="11.400" height="11.400" fill="#dfe9f3" stroke="#b4bcc8" stroke-width=".6"/>
<rect x="1" y="7.500" width="10" height="3.500" fill="#1c6db0"/>
<path d="M1 2 h2 v1.500 h-2z M4 1.200 h1.500 v1.500 h-1.500z M7 2 h2 v1.300 h-2z M9.500 3.500 h1.500 v1.500 h-1.500z M2.500 4.200 h2 v1.500 h-2z M5.500 3.500 h2 v2 h-2z M1 6 h1.500 v1.500 h-1.500z M8 5.500 h2 v2 h-2z M4 6.300 h2.500 v1.200 h-2.500z" fill="#2f80c0"/>
<path d="M2 8.500 h1.200 v1 h-1.200z M5 8.200 h1.500 v1 h-1.500z M8 9 h1.500 v1 h-1.500z" fill="#9cc4e4"/></svg>
<div class="tr" style="left:61.500px;top:463.6px">lowEnergyXYDSSD2</div>
<div class="abs" style="left:39.500px;top:485.4px;width:7px;height:0;border-top:1px dotted #c3c3cf"></div>
<svg class="abs" style="left:47.3px;top:480.2px" width="12" height="12.500" viewBox="0 0 12 12" preserveAspectRatio="none">
<rect x=".3" y=".3" width="11.400" height="11.400" fill="#dfe9f3" stroke="#b4bcc8" stroke-width=".6"/>
<rect x="1" y="7.500" width="10" height="3.500" fill="#1c6db0"/>
<path d="M1 2 h2 v1.500 h-2z M4 1.200 h1.500 v1.500 h-1.500z M7 2 h2 v1.300 h-2z M9.500 3.500 h1.500 v1.500 h-1.500z M2.500 4.200 h2 v1.500 h-2z M5.500 3.500 h2 v2 h-2z M1 6 h1.500 v1.500 h-1.500z M8 5.500 h2 v2 h-2z M4 6.300 h2.500 v1.200 h-2.500z" fill="#2f80c0"/>
<path d="M2 8.500 h1.200 v1 h-1.200z M5 8.200 h1.500 v1 h-1.500z M8 9 h1.500 v1 h-1.500z" fill="#9cc4e4"/></svg>
<div class="tr" style="left:61.500px;top:478.0px">lowEnergyAngleEDSSD2</div>
<div class="abs" style="left:39.500px;top:499.8px;width:7px;height:0;border-top:1px dotted #c3c3cf"></div>
<svg class="abs" style="left:47.3px;top:494.6px" width="12" height="12.500" viewBox="0 0 12 12.500">
<rect x=".3" y=".3" width="11.400" height="11.900" fill="#fbfbfb" stroke="#c4c4c4" stroke-width=".6"/>
<path d="M2.600 1.300 v5 M4.900 1.300 v5 M7.200 1.300 v5 M9.500 1.300 v5" stroke="#dcdcdc" stroke-width=".8"/>
<path d="M.7 11.800 V7.200 L1.800 6 L2.600 7.600 L3.500 3.800 L4.400 7 L5.200 5.200 L6 7.400 L7 4.200 L7.900 7.200 L8.800 5.600 L9.800 8 L10.400 9.800 L11.300 10.200 V11.800z" fill="#9b9b9b"/>
<path d="M.7 11.800 V9.300 L10.200 9.600 L11.300 10.400 V11.800z" fill="#8a8a8a"/></svg>
<div class="tr" style="left:61.500px;top:492.4px">lowEnergyEyTotalDSSD2</div>
<div class="abs" style="left:39.500px;top:514.2px;width:7px;height:0;border-top:1px dotted #c3c3cf"></div>
<svg class="abs" style="left:47.3px;top:509.0px" width="12" height="12.500" viewBox="0 0 12 12.500">
<rect x=".3" y=".3" width="11.400" height="11.900" fill="#fbfbfb" stroke="#c4c4c4" stroke-width=".6"/>
<path d="M2.600 1.300 v5 M4.900 1.300 v5 M7.200 1.300 v5 M9.500 1.300 v5" stroke="#dcdcdc" stroke-width=".8"/>
<path d="M.7 11.800 V7.200 L1.800 6 L2.600 7.600 L3.500 3.800 L4.400 7 L5.200 5.200 L6 7.400 L7 4.200 L7.900 7.200 L8.800 5.600 L9.800 8 L10.400 9.800 L11.300 10.200 V11.800z" fill="#9b9b9b"/>
<path d="M.7 11.800 V9.300 L10.200 9.600 L11.300 10.400 V11.800z" fill="#8a8a8a"/></svg>
<div class="tr" style="left:61.500px;top:506.8px">lowEnergyExTotalDSSD2</div>
<div class="abs" style="left:39.500px;top:528.6px;width:7px;height:0;border-top:1px dotted #c3c3cf"></div>
<svg class="abs" style="left:47.3px;top:523.4px" width="12" height="12.500" viewBox="0 0 12 12.500">
<rect x=".3" y=".3" width="11.400" height="11.900" fill="#fbfbfb" stroke="#c4c4c4" stroke-width=".6"/>
<path d="M2.600 1.300 v5 M4.900 1.300 v5 M7.200 1.300 v5 M9.500 1.300 v5" stroke="#dcdcdc" stroke-width=".8"/>
<path d="M.7 11.800 V7.200 L1.800 6 L2.600 7.600 L3.500 3.800 L4.400 7 L5.200 5.200 L6 7.400 L7 4.200 L7.900 7.200 L8.800 5.600 L9.800 8 L10.400 9.800 L11.300 10.200 V11.800z" fill="#9b9b9b"/>
<path d="M.7 11.800 V9.300 L10.200 9.600 L11.300 10.400 V11.800z" fill="#8a8a8a"/></svg>
<div class="tr" style="left:61.500px;top:521.2px">lowEnergyEyRateDSSD2</div>
<div class="abs" style="left:39.500px;top:543.0px;width:7px;height:0;border-top:1px dotted #c3c3cf"></div>
<svg class="abs" style="left:47.3px;top:537.8px" width="12" height="12.500" viewBox="0 0 12 12.500">
<rect x=".3" y=".3" width="11.400" height="11.900" fill="#fbfbfb" stroke="#c4c4c4" stroke-width=".6"/>
<path d="M2.600 1.300 v5 M4.900 1.300 v5 M7.200 1.300 v5 M9.500 1.300 v5" stroke="#dcdcdc" stroke-width=".8"/>
<path d="M.7 11.800 V7.200 L1.800 6 L2.600 7.600 L3.500 3.800 L4.400 7 L5.200 5.200 L6 7.400 L7 4.200 L7.900 7.200 L8.800 5.600 L9.800 8 L10.400 9.800 L11.300 10.200 V11.800z" fill="#9b9b9b"/>
<path d="M.7 11.800 V9.300 L10.200 9.600 L11.300 10.400 V11.800z" fill="#8a8a8a"/></svg>
<div class="tr" style="left:61.500px;top:535.6px">lowEnergyExRateDSSD2</div>
<div class="abs" style="left:39.500px;top:557.4px;width:7px;height:0;border-top:1px dotted #c3c3cf"></div>
<svg class="abs" style="left:47.3px;top:552.2px" width="12" height="12.500" viewBox="0 0 12 12" preserveAspectRatio="none">
<rect x=".3" y=".3" width="11.400" height="11.400" fill="#dfe9f3" stroke="#b4bcc8" stroke-width=".6"/>
<rect x="1" y="7.500" width="10" height="3.500" fill="#1c6db0"/>
<path d="M1 2 h2 v1.500 h-2z M4 1.200 h1.500 v1.500 h-1.500z M7 2 h2 v1.300 h-2z M9.500 3.500 h1.500 v1.500 h-1.500z M2.500 4.200 h2 v1.500 h-2z M5.500 3.500 h2 v2 h-2z M1 6 h1.500 v1.500 h-1.500z M8 5.500 h2 v2 h-2z M4 6.300 h2.500 v1.200 h-2.500z" fill="#2f80c0"/>
<path d="M2 8.500 h1.200 v1 h-1.200z M5 8.200 h1.500 v1 h-1.500z M8 9 h1.500 v1 h-1.500z" fill="#9cc4e4"/></svg>
<div class="tr" style="left:61.500px;top:550.0px">lowEnergyExEyDSSD3</div>
<div class="abs" style="left:39.500px;top:571.8px;width:7px;height:0;border-top:1px dotted #c3c3cf"></div>
<svg class="abs" style="left:47.3px;top:566.6px" width="12" height="12.500" viewBox="0 0 12 12" preserveAspectRatio="none">
<rect x=".3" y=".3" width="11.400" height="11.400" fill="#dfe9f3" stroke="#b4bcc8" stroke-width=".6"/>
<rect x="1" y="7.500" width="10" height="3.500" fill="#1c6db0"/>
<path d="M1 2 h2 v1.500 h-2z M4 1.200 h1.500 v1.500 h-1.500z M7 2 h2 v1.300 h-2z M9.500 3.500 h1.500 v1.500 h-1.500z M2.500 4.200 h2 v1.500 h-2z M5.500 3.500 h2 v2 h-2z M1 6 h1.500 v1.500 h-1.500z M8 5.500 h2 v2 h-2z M4 6.300 h2.500 v1.200 h-2.500z" fill="#2f80c0"/>
<path d="M2 8.500 h1.200 v1 h-1.200z M5 8.200 h1.500 v1 h-1.500z M8 9 h1.500 v1 h-1.500z" fill="#9cc4e4"/></svg>
<div class="tr" style="left:61.500px;top:564.4px">xyMultiplicityDSSD3</div>
<div class="abs" style="left:39.500px;top:586.2px;width:7px;height:0;border-top:1px dotted #c3c3cf"></div>
<svg class="abs" style="left:47.3px;top:581.0px" width="12" height="12.500" viewBox="0 0 12 12" preserveAspectRatio="none">
<rect x=".3" y=".3" width="11.400" height="11.400" fill="#dfe9f3" stroke="#b4bcc8" stroke-width=".6"/>
<rect x="1" y="7.500" width="10" height="3.500" fill="#1c6db0"/>
<path d="M1 2 h2 v1.500 h-2z M4 1.200 h1.500 v1.500 h-1.500z M7 2 h2 v1.300 h-2z M9.500 3.500 h1.500 v1.500 h-1.500z M2.500 4.200 h2 v1.500 h-2z M5.500 3.500 h2 v2 h-2z M1 6 h1.500 v1.500 h-1.500z M8 5.500 h2 v2 h-2z M4 6.300 h2.500 v1.200 h-2.500z" fill="#2f80c0"/>
<path d="M2 8.500 h1.200 v1 h-1.200z M5 8.200 h1.500 v1 h-1.500z M8 9 h1.500 v1 h-1.500z" fill="#9cc4e4"/></svg>
<div class="tr" style="left:61.500px;top:578.8px">lowEnergyXYDSSD3</div>
<div class="abs" style="left:39.500px;top:600.6px;width:7px;height:0;border-top:1px dotted #c3c3cf"></div>
<svg class="abs" style="left:47.3px;top:595.4px" width="12" height="12.500" viewBox="0 0 12 12" preserveAspectRatio="none">
<rect x=".3" y=".3" width="11.400" height="11.400" fill="#dfe9f3" stroke="#b4bcc8" stroke-width=".6"/>
<rect x="1" y="7.500" width="10" height="3.500" fill="#1c6db0"/>
<path d="M1 2 h2 v1.500 h-2z M4 1.200 h1.500 v1.500 h-1.500z M7 2 h2 v1.300 h-2z M9.500 3.500 h1.500 v1.500 h-1.500z M2.500 4.200 h2 v1.500 h-2z M5.500 3.500 h2 v2 h-2z M1 6 h1.500 v1.500 h-1.500z M8 5.500 h2 v2 h-2z M4 6.300 h2.500 v1.200 h-2.500z" fill="#2f80c0"/>
<path d="M2 8.500 h1.200 v1 h-1.200z M5 8.200 h1.500 v1 h-1.500z M8 9 h1.500 v1 h-1.500z" fill="#9cc4e4"/></svg>
<div class="tr" style="left:61.500px;top:593.2px">lowEnergyAngleEDSSD3</div>
<div class="abs" style="left:39.500px;top:615.0px;width:7px;height:0;border-top:1px dotted #c3c3cf"></div>
<svg class="abs" style="left:47.3px;top:609.8px" width="12" height="12.500" viewBox="0 0 12 12.500">
<rect x=".3" y=".3" width="11.400" height="11.900" fill="#fbfbfb" stroke="#c4c4c4" stroke-width=".6"/>
<path d="M2.600 1.300 v5 M4.900 1.300 v5 M7.200 1.300 v5 M9.500 1.300 v5" stroke="#dcdcdc" stroke-width=".8"/>
<path d="M.7 11.800 V7.200 L1.800 6 L2.600 7.600 L3.500 3.800 L4.400 7 L5.200 5.200 L6 7.400 L7 4.200 L7.900 7.200 L8.800 5.600 L9.800 8 L10.400 9.800 L11.300 10.200 V11.800z" fill="#9b9b9b"/>
<path d="M.7 11.800 V9.300 L10.200 9.600 L11.300 10.400 V11.800z" fill="#8a8a8a"/></svg>
<div class="tr" style="left:61.500px;top:607.6px">lowEnergyEyTotalDSSD3</div>
<div class="abs" style="left:39.500px;top:629.4px;width:7px;height:0;border-top:1px dotted #c3c3cf"></div>
<svg class="abs" style="left:47.3px;top:624.2px" width="12" height="12.500" viewBox="0 0 12 12.500">
<rect x=".3" y=".3" width="11.400" height="11.900" fill="#fbfbfb" stroke="#c4c4c4" stroke-width=".6"/>
<path d="M2.600 1.300 v5 M4.900 1.300 v5 M7.200 1.300 v5 M9.500 1.300 v5" stroke="#dcdcdc" stroke-width=".8"/>
<path d="M.7 11.800 V7.200 L1.800 6 L2.600 7.600 L3.500 3.800 L4.400 7 L5.200 5.200 L6 7.400 L7 4.200 L7.900 7.200 L8.800 5.600 L9.800 8 L10.400 9.800 L11.300 10.200 V11.800z" fill="#9b9b9b"/>
<path d="M.7 11.800 V9.300 L10.200 9.600 L11.300 10.400 V11.800z" fill="#8a8a8a"/></svg>
<div class="tr" style="left:61.500px;top:622.0px">lowEnergyExTotalDSSD3</div>
<div class="abs" style="left:39.500px;top:643.8px;width:7px;height:0;border-top:1px dotted #c3c3cf"></div>
<svg class="abs" style="left:47.3px;top:638.6px" width="12" height="12.500" viewBox="0 0 12 12.500">
<rect x=".3" y=".3" width="11.400" height="11.900" fill="#fbfbfb" stroke="#c4c4c4" stroke-width=".6"/>
<path d="M2.600 1.300 v5 M4.900 1.300 v5 M7.200 1.300 v5 M9.500 1.300 v5" stroke="#dcdcdc" stroke-width=".8"/>
<path d="M.7 11.800 V7.200 L1.800 6 L2.600 7.600 L3.500 3.800 L4.400 7 L5.200 5.200 L6 7.400 L7 4.200 L7.900 7.200 L8.800 5.600 L9.800 8 L10.400 9.800 L11.300 10.200 V11.800z" fill="#9b9b9b"/>
<path d="M.7 11.800 V9.300 L10.200 9.600 L11.300 10.400 V11.800z" fill="#8a8a8a"/></svg>
<div class="tr" style="left:61.500px;top:636.4px">lowEnergyEyRateDSSD3</div>
<div class="abs" style="left:39.500px;top:658.2px;width:7px;height:0;border-top:1px dotted #c3c3cf"></div>
<svg class="abs" style="left:47.3px;top:653.0px" width="12" height="12.500" viewBox="0 0 12 12.500">
<rect x=".3" y=".3" width="11.400" height="11.900" fill="#fbfbfb" stroke="#c4c4c4" stroke-width=".6"/>
<path d="M2.600 1.300 v5 M4.900 1.300 v5 M7.200 1.300 v5 M9.500 1.300 v5" stroke="#dcdcdc" stroke-width=".8"/>
<path d="M.7 11.800 V7.200 L1.800 6 L2.600 7.600 L3.500 3.800 L4.400 7 L5.200 5.200 L6 7.400 L7 4.200 L7.900 7.200 L8.800 5.600 L9.800 8 L10.400 9.800 L11.300 10.200 V11.800z" fill="#9b9b9b"/>
<path d="M.7 11.800 V9.300 L10.200 9.600 L11.300 10.400 V11.800z" fill="#8a8a8a"/></svg>
<div class="tr" style="left:61.500px;top:650.8px">lowEnergyExRateDSSD3</div>
<div class="abs" style="left:39.500px;top:672.6px;width:7px;height:0;border-top:1px dotted #c3c3cf"></div>
<svg class="abs" style="left:47.3px;top:667.4px" width="12" height="12.500" viewBox="0 0 12 12" preserveAspectRatio="none">
<rect x=".3" y=".3" width="11.400" height="11.400" fill="#dfe9f3" stroke="#b4bcc8" stroke-width=".6"/>
<rect x="1" y="7.500" width="10" height="3.500" fill="#1c6db0"/>
<path d="M1 2 h2 v1.500 h-2z M4 1.200 h1.500 v1.500 h-1.500z M7 2 h2 v1.300 h-2z M9.500 3.500 h1.500 v1.500 h-1.500z M2.500 4.200 h2 v1.500 h-2z M5.500 3.500 h2 v2 h-2z M1 6 h1.500 v1.500 h-1.500z M8 5.500 h2 v2 h-2z M4 6.300 h2.500 v1.200 h-2.500z" fill="#2f80c0"/>
<path d="M2 8.500 h1.200 v1 h-1.200z M5 8.200 h1.500 v1 h-1.500z M8 9 h1.500 v1 h-1.500z" fill="#9cc4e4"/></svg>
<div class="tr" style="left:61.500px;top:665.2px">lowEnergyChannelADC</div>
</div>
<div id="sep" class="abs"></div>
<svg class="abs" style="left:0;top:0" width="1920" height="1080" viewBox="0 0 1920 1080" font-family="Liberation Sans, sans-serif">
<rect x="289.5" y="159.5" width="687.0" height="371.25" fill="#fff"/>
<path d="M400.33,530.75 L400.33,243.60 L439.05,243.60 L439.05,243.60 L439.05,530.75 L516.50,530.75 L516.50,530.75 L516.50,243.60 L555.23,243.60 L555.23,243.60 L555.23,530.75 L593.95,530.75 L593.95,530.75 L593.95,211.81 L671.40,211.81 L671.40,211.81 L671.40,161.43 L710.12,161.43 L710.12,161.43 L710.12,530.75 L748.85,530.75 L748.85,530.75 L748.85,243.60 L787.58,243.60 L787.58,243.60 L787.58,530.75 L826.30,530.75 L826.30,530.75 L826.30,243.60 L865.02,243.60 L865.02,243.60 L865.02,530.75 L903.75,530.75 L903.75,530.75 L903.75,243.60 L942.48,243.60 L942.48,530.75" fill="none" stroke="#3737b2" stroke-width="1.100" stroke-linejoin="miter"/>
<rect x="289.5" y="159.5" width="687.0" height="371.25" fill="none" stroke="#2a2a2a" stroke-width="1"/>
<path d="M289.5,159.5 V530.75 H976.5" fill="none" stroke="#2a2a2a" stroke-width="1.300"/>
<path d="M299.64,530.75 v-7 M315.13,530.75 v-7 M330.62,530.75 v-7 M346.11,530.75 v-7 M361.60,530.75 v-13.75 M377.09,530.75 v-7 M392.58,530.75 v-7 M408.07,530.75 v-7 M423.56,530.75 v-7 M439.05,530.75 v-13.75 M454.54,530.75 v-7 M470.03,530.75 v-7 M485.52,530.75 v-7 M501.01,530.75 v-7 M516.50,530.75 v-13.75 M531.99,530.75 v-7 M547.48,530.75 v-7 M562.97,530.75 v-7 M578.46,530.75 v-7 M593.95,530.75 v-13.75 M609.44,530.75 v-7 M624.93,530.75 v-7 M640.42,530.75 v-7 M655.91,530.75 v-7 M671.40,530.75 v-13.75 M686.89,530.75 v-7 M702.38,530.75 v-7 M717.87,530.75 v-7 M733.36,530.75 v-7 M748.85,530.75 v-13.75 M764.34,530.75 v-7 M779.83,530.75 v-7 M795.32,530.75 v-7 M810.81,530.75 v-7 M826.30,530.75 v-13.75 M841.79,530.75 v-7 M857.28,530.75 v-7 M872.77,530.75 v-7 M888.26,530.75 v-7 M903.75,530.75 v-13.75 M919.24,530.75 v-7 M934.73,530.75 v-7 M950.22,530.75 v-7 M965.71,530.75 v-7" stroke="#2a2a2a" stroke-width="1" fill="none"/>
<text x="361.60" y="548" font-size="16" text-anchor="middle" fill="#000">3100</text>
<text x="439.05" y="548" font-size="16" text-anchor="middle" fill="#000">3200</text>
<text x="516.50" y="548" font-size="16" text-anchor="middle" fill="#000">3300</text>
<text x="593.95" y="548" font-size="16" text-anchor="middle" fill="#000">3400</text>
<text x="671.40" y="548" font-size="16" text-anchor="middle" fill="#000">3500</text>
<text x="748.85" y="548" font-size="16" text-anchor="middle" fill="#000">3600</text>
<text x="826.30" y="548" font-size="16" text-anchor="middle" fill="#000">3700</text>
<text x="903.75" y="548" font-size="16" text-anchor="middle" fill="#000">3800</text>
<text x="277.30" y="461.40" font-size="16" text-anchor="end" fill="#000">10</text>
<text x="287.20" y="455.30" font-size="9.600" text-anchor="end" fill="#000">-2</text>
<text x="277.30" y="355.80" font-size="16" text-anchor="end" fill="#000">10</text>
<text x="287.20" y="349.70" font-size="9.600" text-anchor="end" fill="#000">-1</text>
<text x="280.90" y="250.20" font-size="16" text-anchor="end" fill="#000">10</text>
<text x="287.20" y="244.10" font-size="9.600" text-anchor="end" fill="#000">0</text>
<path d="M289.5,528.61 h13 M289.5,510.02 h13 M289.5,496.82 h13 M289.5,486.59 h13 M289.5,478.23 h13 M289.5,471.16 h13 M289.5,465.03 h13 M289.5,459.63 h13 M289.5,454.80 h25.75 M289.5,423.01 h13 M289.5,404.42 h13 M289.5,391.22 h13 M289.5,380.99 h13 M289.5,372.63 h13 M289.5,365.56 h13 M289.5,359.43 h13 M289.5,354.03 h13 M289.5,349.20 h25.75 M289.5,317.41 h13 M289.5,298.82 h13 M289.5,285.62 h13 M289.5,275.39 h13 M289.5,267.03 h13 M289.5,259.96 h13 M289.5,253.83 h13 M289.5,248.43 h13 M289.5,243.60 h25.75 M289.5,211.81 h13 M289.5,193.22 h13 M289.5,180.02 h13 M289.5,169.79 h13 M289.5,161.43 h13" stroke="#2a2a2a" stroke-width="1" fill="none"/>
<text transform="translate(245.5,160.0) rotate(-90)" font-size="16" text-anchor="end" fill="#000">Counts</text>
<text x="976.5" y="560.75" font-size="16" text-anchor="end" fill="#000">Energy [MeV]</text>
<rect x="873" y="143.25" width="171.5" height="74.75" fill="#fff" stroke="#444" stroke-width="1"/>
<path d="M873,161.45 h171.5" stroke="#444" stroke-width="1"/>
<text x="958.25" y="156.15" font-size="12.750" text-anchor="middle" fill="#000">lowEnergyEyTotalDSSD0</text>
<text x="881.80" y="175.05" font-size="12.750" fill="#000">Entries</text>
<text x="1035.50" y="175.05" font-size="12.750" text-anchor="end" fill="#000">1157733</text>
<text x="881.80" y="193.05" font-size="12.750" fill="#000">Mean</text>
<text x="1035.50" y="193.05" font-size="12.750" text-anchor="end" fill="#000">3508</text>
<text x="881.80" y="212.05" font-size="12.750" fill="#000">Std Dev</text>
<text x="1035.50" y="212.05" font-size="12.750" text-anchor="end" fill="#000">146.8</text>
<rect x="1147.5" y="159.5" width="687.0" height="378.5" fill="#fff"/>
<path d="M1187.12,538.00 L1187.12,258.70 L1221.75,258.70 L1221.75,258.70 L1221.75,538.00 L1394.88,538.00 L1394.88,538.00 L1394.88,258.70 L1429.50,258.70 L1429.50,258.70 L1429.50,538.00 L1464.12,538.00 L1464.12,538.00 L1464.12,207.36 L1498.75,207.36 L1498.75,207.36 L1498.75,226.31 L1568.00,226.31 L1568.00,226.31 L1568.00,174.97 L1602.62,174.97 L1602.62,174.97 L1602.62,183.49 L1637.25,183.49 L1637.25,183.49 L1637.25,161.53 L1671.88,161.53 L1671.88,161.53 L1671.88,538.00 L1741.12,538.00 L1741.12,538.00 L1741.12,258.70 L1775.75,258.70 L1775.75,538.00" fill="none" stroke="#3737b2" stroke-width="1.100" stroke-linejoin="miter"/>
<rect x="1147.5" y="159.5" width="687.0" height="378.5" fill="none" stroke="#2a2a2a" stroke-width="1"/>
<path d="M1147.5,159.5 V538 H1834.5" fill="none" stroke="#2a2a2a" stroke-width="1.300"/>
<path d="M1152.50,538 v-13.75 M1187.12,538 v-7 M1221.75,538 v-7 M1256.38,538 v-7 M1291.00,538 v-13.75 M1325.62,538 v-7 M1360.25,538 v-7 M1394.88,538 v-7 M1429.50,538 v-13.75 M1464.12,538 v-7 M1498.75,538 v-7 M1533.38,538 v-7 M1568.00,538 v-13.75 M1602.62,538 v-7 M1637.25,538 v-7 M1671.88,538 v-7 M1706.50,538 v-13.75 M1741.12,538 v-7 M1775.75,538 v-7 M1810.38,538 v-7" stroke="#2a2a2a" stroke-width="1" fill="none"/>
<text x="1152.50" y="555" font-size="16" text-anchor="middle" fill="#000">2800</text>
<text x="1291.00" y="555" font-size="16" text-anchor="middle" fill="#000">3000</text>
<text x="1429.50" y="555" font-size="16" text-anchor="middle" fill="#000">3200</text>
<text x="1568.00" y="555" font-size="16" text-anchor="middle" fill="#000">3400</text>
<text x="1706.50" y="555" font-size="16" text-anchor="middle" fill="#000">3600</text>
<text x="1135.30" y="480.50" font-size="16" text-anchor="end" fill="#000">10</text>
<text x="1145.20" y="474.40" font-size="9.600" text-anchor="end" fill="#000">-2</text>
<text x="1135.30" y="372.90" font-size="16" text-anchor="end" fill="#000">10</text>
<text x="1145.20" y="366.80" font-size="9.600" text-anchor="end" fill="#000">-1</text>
<text x="1138.90" y="265.30" font-size="16" text-anchor="end" fill="#000">10</text>
<text x="1145.20" y="259.20" font-size="9.600" text-anchor="end" fill="#000">0</text>
<path d="M1147.5,530.16 h13 M1147.5,516.72 h13 M1147.5,506.29 h13 M1147.5,497.77 h13 M1147.5,490.57 h13 M1147.5,484.33 h13 M1147.5,478.82 h13 M1147.5,473.90 h25.75 M1147.5,441.51 h13 M1147.5,422.56 h13 M1147.5,409.12 h13 M1147.5,398.69 h13 M1147.5,390.17 h13 M1147.5,382.97 h13 M1147.5,376.73 h13 M1147.5,371.22 h13 M1147.5,366.30 h25.75 M1147.5,333.91 h13 M1147.5,314.96 h13 M1147.5,301.52 h13 M1147.5,291.09 h13 M1147.5,282.57 h13 M1147.5,275.37 h13 M1147.5,269.13 h13 M1147.5,263.62 h13 M1147.5,258.70 h25.75 M1147.5,226.31 h13 M1147.5,207.36 h13 M1147.5,193.92 h13 M1147.5,183.49 h13 M1147.5,174.97 h13 M1147.5,167.77 h13 M1147.5,161.53 h13" stroke="#2a2a2a" stroke-width="1" fill="none"/>
<text transform="translate(1103.5,160.0) rotate(-90)" font-size="16" text-anchor="end" fill="#000">Counts</text>
<text x="1834.5" y="567.75" font-size="16" text-anchor="end" fill="#000">Energy [MeV]</text>
<rect x="1731.25" y="143.25" width="171.5" height="74.75" fill="#fff" stroke="#444" stroke-width="1"/>
<path d="M1731.25,161.45 h171.5" stroke="#444" stroke-width="1"/>
<text x="1816.50" y="156.15" font-size="12.750" text-anchor="middle" fill="#000">lowEnergyEyTotalDSSD1</text>
<text x="1740.05" y="175.05" font-size="12.750" fill="#000">Entries</text>
<text x="1893.75" y="175.05" font-size="12.750" text-anchor="end" fill="#000">327926</text>
<text x="1740.05" y="193.05" font-size="12.750" fill="#000">Mean</text>
<text x="1893.75" y="193.05" font-size="12.750" text-anchor="end" fill="#000">3416</text>
<text x="1740.05" y="212.05" font-size="12.750" fill="#000">Std Dev</text>
<text x="1893.75" y="212.05" font-size="12.750" text-anchor="end" fill="#000">145.1</text>
<rect x="294.5" y="623.5" width="682.0" height="371.5" fill="#fff"/>
<path d="M313.43,995.00 L313.43,683.01 L345.20,683.01 L345.20,683.01 L345.20,714.80 L376.98,714.80 L376.98,714.80 L376.98,995.00 L408.75,995.00 L408.75,995.00 L408.75,683.01 L440.52,683.01 L440.52,683.01 L440.52,664.42 L472.30,664.42 L472.30,664.42 L472.30,714.80 L567.62,714.80 L567.62,714.80 L567.62,683.01 L631.17,683.01 L631.17,683.01 L631.17,640.99 L662.95,640.99 L662.95,640.99 L662.95,683.01 L694.72,683.01 L694.72,683.01 L694.72,625.56 L726.50,625.56 L726.50,625.56 L726.50,683.01 L758.27,683.01 L758.27,683.01 L758.27,714.80 L790.05,714.80 L790.05,714.80 L790.05,683.01 L821.83,683.01 L821.83,683.01 L821.83,664.42 L853.60,664.42 L853.60,664.42 L853.60,683.01 L917.15,683.01 L917.15,683.01 L917.15,714.80 L948.92,714.80 L948.92,995.00" fill="none" stroke="#3737b2" stroke-width="1.100" stroke-linejoin="miter"/>
<rect x="294.5" y="623.5" width="682.0" height="371.5" fill="none" stroke="#2a2a2a" stroke-width="1"/>
<path d="M294.5,623.5 V995 H976.5" fill="none" stroke="#2a2a2a" stroke-width="1.300"/>
<path d="M313.43,995 v-7 M345.20,995 v-7 M376.98,995 v-7 M408.75,995 v-13.75 M440.52,995 v-7 M472.30,995 v-7 M504.07,995 v-7 M535.85,995 v-13.75 M567.62,995 v-7 M599.40,995 v-7 M631.17,995 v-7 M662.95,995 v-13.75 M694.72,995 v-7 M726.50,995 v-7 M758.27,995 v-7 M790.05,995 v-13.75 M821.83,995 v-7 M853.60,995 v-7 M885.38,995 v-7 M917.15,995 v-13.75 M948.92,995 v-7" stroke="#2a2a2a" stroke-width="1" fill="none"/>
<text x="408.75" y="1012" font-size="16" text-anchor="middle" fill="#000">3000</text>
<text x="535.85" y="1012" font-size="16" text-anchor="middle" fill="#000">3200</text>
<text x="662.95" y="1012" font-size="16" text-anchor="middle" fill="#000">3400</text>
<text x="790.05" y="1012" font-size="16" text-anchor="middle" fill="#000">3600</text>
<text x="917.15" y="1012" font-size="16" text-anchor="middle" fill="#000">3800</text>
<text x="282.30" y="932.60" font-size="16" text-anchor="end" fill="#000">10</text>
<text x="292.20" y="926.50" font-size="9.600" text-anchor="end" fill="#000">-2</text>
<text x="282.30" y="827.00" font-size="16" text-anchor="end" fill="#000">10</text>
<text x="292.20" y="820.90" font-size="9.600" text-anchor="end" fill="#000">-1</text>
<text x="285.90" y="721.40" font-size="16" text-anchor="end" fill="#000">10</text>
<text x="292.20" y="715.30" font-size="9.600" text-anchor="end" fill="#000">0</text>
<path d="M294.5,981.22 h13 M294.5,968.02 h13 M294.5,957.79 h13 M294.5,949.43 h13 M294.5,942.36 h13 M294.5,936.23 h13 M294.5,930.83 h13 M294.5,926.00 h25.75 M294.5,894.21 h13 M294.5,875.62 h13 M294.5,862.42 h13 M294.5,852.19 h13 M294.5,843.83 h13 M294.5,836.76 h13 M294.5,830.63 h13 M294.5,825.23 h13 M294.5,820.40 h25.75 M294.5,788.61 h13 M294.5,770.02 h13 M294.5,756.82 h13 M294.5,746.59 h13 M294.5,738.23 h13 M294.5,731.16 h13 M294.5,725.03 h13 M294.5,719.63 h13 M294.5,714.80 h25.75 M294.5,683.01 h13 M294.5,664.42 h13 M294.5,651.22 h13 M294.5,640.99 h13 M294.5,632.63 h13 M294.5,625.56 h13" stroke="#2a2a2a" stroke-width="1" fill="none"/>
<text transform="translate(250.5,624.0) rotate(-90)" font-size="16" text-anchor="end" fill="#000">Counts</text>
<text x="976.5" y="1024.75" font-size="16" text-anchor="end" fill="#000">Energy [MeV]</text>
<rect x="873" y="607.25" width="171.5" height="74.75" fill="#fff" stroke="#444" stroke-width="1"/>
<path d="M873,625.45 h171.5" stroke="#444" stroke-width="1"/>
<text x="958.25" y="620.15" font-size="12.750" text-anchor="middle" fill="#000">lowEnergyEyTotalDSSD2</text>
<text x="881.80" y="639.05" font-size="12.750" fill="#000">Entries</text>
<text x="1035.50" y="639.05" font-size="12.750" text-anchor="end" fill="#000">32413043</text>
<text x="881.80" y="657.05" font-size="12.750" fill="#000">Mean</text>
<text x="1035.50" y="657.05" font-size="12.750" text-anchor="end" fill="#000">3392</text>
<text x="881.80" y="676.05" font-size="12.750" fill="#000">Std Dev</text>
<text x="1035.50" y="676.05" font-size="12.750" text-anchor="end" fill="#000">252.5</text>
<rect x="1147.5" y="623.5" width="687.0" height="371.5" fill="#fff"/>
<path d="M1352.20,995.00 L1352.20,790.85 L1383.60,790.85 L1383.60,790.85 L1383.60,865.60 L1477.80,865.60 L1477.80,865.60 L1477.80,747.13 L1540.60,747.13 L1540.60,747.13 L1540.60,716.11 L1572.00,716.11 L1572.00,716.11 L1572.00,628.66 L1603.40,628.66 L1603.40,628.66 L1603.40,790.85 L1634.80,790.85 L1634.80,790.85 L1634.80,995.00 L1729.00,995.00 L1729.00,995.00 L1729.00,865.60 L1791.80,865.60 L1791.80,995.00" fill="none" stroke="#3737b2" stroke-width="1.100" stroke-linejoin="miter"/>
<rect x="1147.5" y="623.5" width="687.0" height="371.5" fill="none" stroke="#2a2a2a" stroke-width="1"/>
<path d="M1147.5,623.5 V995 H1834.5" fill="none" stroke="#2a2a2a" stroke-width="1.300"/>
<path d="M1163.80,995 v-7 M1195.20,995 v-7 M1226.60,995 v-7 M1258.00,995 v-13.75 M1289.40,995 v-7 M1320.80,995 v-7 M1352.20,995 v-7 M1383.60,995 v-13.75 M1415.00,995 v-7 M1446.40,995 v-7 M1477.80,995 v-7 M1509.20,995 v-13.75 M1540.60,995 v-7 M1572.00,995 v-7 M1603.40,995 v-7 M1634.80,995 v-13.75 M1666.20,995 v-7 M1697.60,995 v-7 M1729.00,995 v-7 M1760.40,995 v-13.75 M1791.80,995 v-7 M1823.20,995 v-7" stroke="#2a2a2a" stroke-width="1" fill="none"/>
<text x="1258.00" y="1012" font-size="16" text-anchor="middle" fill="#000">3000</text>
<text x="1383.60" y="1012" font-size="16" text-anchor="middle" fill="#000">3200</text>
<text x="1509.20" y="1012" font-size="16" text-anchor="middle" fill="#000">3400</text>
<text x="1634.80" y="1012" font-size="16" text-anchor="middle" fill="#000">3600</text>
<text x="1760.40" y="1012" font-size="16" text-anchor="middle" fill="#000">3800</text>
<text x="1138.90" y="872.20" font-size="16" text-anchor="end" fill="#000">10</text>
<text x="1145.20" y="866.10" font-size="9.600" text-anchor="end" fill="#000">0</text>
<path d="M1147.5,964.41 h13 M1147.5,940.35 h13 M1147.5,920.69 h13 M1147.5,904.06 h13 M1147.5,889.66 h13 M1147.5,876.96 h13 M1147.5,865.60 h25.75 M1147.5,790.85 h13 M1147.5,747.13 h13 M1147.5,716.11 h13 M1147.5,692.05 h13 M1147.5,672.39 h13 M1147.5,655.76 h13 M1147.5,641.36 h13 M1147.5,628.66 h13" stroke="#2a2a2a" stroke-width="1" fill="none"/>
<text transform="translate(1103.5,624.0) rotate(-90)" font-size="16" text-anchor="end" fill="#000">Counts</text>
<text x="1834.5" y="1024.75" font-size="16" text-anchor="end" fill="#000">Energy [MeV]</text>
<rect x="1731.25" y="607.25" width="171.5" height="74.75" fill="#fff" stroke="#444" stroke-width="1"/>
<path d="M1731.25,625.45 h171.5" stroke="#444" stroke-width="1"/>
<text x="1816.50" y="620.15" font-size="12.750" text-anchor="middle" fill="#000">lowEnergyEyTotalDSSD3</text>
<text x="1740.05" y="639.05" font-size="12.750" fill="#000">Entries</text>
<text x="1893.75" y="639.05" font-size="12.750" text-anchor="end" fill="#000">559405</text>
<text x="1740.05" y="657.05" font-size="12.750" fill="#000">Mean</text>
<text x="1893.75" y="657.05" font-size="12.750" text-anchor="end" fill="#000">3463</text>
<text x="1740.05" y="676.05" font-size="12.750" fill="#000">Std Dev</text>
<text x="1893.75" y="676.05" font-size="12.750" text-anchor="end" fill="#000">145.5</text>
<rect x="207.5" y="563.5" width="9" height="9" fill="#b0c4de"/>
<rect x="1065.5" y="563.5" width="9" height="9" fill="#b0c4de"/>
<rect x="207.5" y="1027.5" width="9" height="9" fill="#b0c4de"/>
<rect x="1065.5" y="1027.5" width="9" height="9" fill="#b0c4de"/>
</svg>
<div id="task" class="abs">
<div class="tb" style="left:5px;width:30px;top:6px;height:26px"><svg style="left:6px;top:4px" width="16" height="16" viewBox="0 0 16 16" fill="none" stroke="#2e3436" stroke-width="2">
<rect x="8.500" y="2" width="5.500" height="5" fill="#fff"/><rect x="1.500" y="9" width="5.500" height="5"/><path d="M4.200 9 V5.500 H8.500" /></svg></div>
<div class="tb" style="left:39.5px;width:249.5px;top:3px;height:31px;line-height:29px;background:#d0d0d0;border-color:#bdbdbd;box-shadow:inset 0 1px 2px rgba(0,0,0,.12);"><svg style="left:6px;top:2.5px" width="23" height="23" viewBox="0 0 24 24">
<defs><linearGradient id="ffa6" x1=".75" y1="0" x2=".3" y2="1"><stop offset="0" stop-color="#fff45a"/><stop offset=".28" stop-color="#ffc02e"/><stop offset=".55" stop-color="#ff7a2a"/><stop offset=".8" stop-color="#ff3f55"/><stop offset="1" stop-color="#ea1f9a"/></linearGradient>
<radialGradient id="ffb6" cx=".55" cy=".3" r=".75"><stop offset="0" stop-color="#b06bff"/><stop offset="1" stop-color="#5a35c8"/></radialGradient></defs>
<path d="M14.300 .2 C13 2.200 13.400 4 14.800 5.600 C13.200 4.600 10.800 4.400 9.200 5.200 C8.200 4.600 7.600 3.600 7.600 2.800 C5.800 3.800 5.200 5.600 5.300 6.800 C4.600 6.600 3.800 5.600 3.700 4.800 C1.800 6.800 .8 9.600 .8 12.400 C.8 18.700 5.900 23.700 12.200 23.700 C18.500 23.700 23.400 18.700 23.400 12.600 C23.400 9.400 22 6.800 20.400 5.200 C20.800 6.400 20.800 7.600 20.600 8.400 C19.800 5.200 17.200 3.400 14.300 .2z" fill="url(#ffa6)"/>
<circle cx="12" cy="12.300" r="5.400" fill="url(#ffb6)"/>
<path d="M3.600 8.400 C5.600 6.600 9 6.400 11.200 8.200 C12.200 9 12.800 9.600 14.400 9.800 C13 10.300 12.200 10.800 11.800 11.800 C10.200 11.200 8.400 12 8.200 13.800 C8.100 15 8.600 16 9.200 16.600 C6 15.800 3.400 12.600 3.600 8.400z" fill="#ff8a1f"/>
<path d="M3.600 8.400 C4.800 7.200 6.800 6.600 8.600 7 C7.400 7.600 6.800 8.600 6.800 9.600 C5.600 9 4.400 8.700 3.600 8.400z" fill="#ffc03a"/>
</svg><span style="color:#2e3436;letter-spacing:0px;top:.7px">Online server — Mozilla Firefox</span></div>
<div class="tb" style="left:293.5px;width:249px;"><svg style="left:7px;top:5px;opacity:0.45" width="21" height="19" viewBox="0 0 22 20">
<rect x=".5" y=".5" width="21" height="19" rx="1.500" fill="#b5b7b3" stroke="#8a8c88"/>
<rect x="2.300" y="2.300" width="17.400" height="14.400" fill="#2f3532"/>
<path d="M4.500 5 l2.200 1.500 -2.200 1.500 M7.500 9.300 h3" stroke="#e8e8e8" stroke-width="1" fill="none"/></svg><span style="color:#8b8e8f;letter-spacing:-0.19px;top:.7px">[pi@nnrpi1: ~/Programs/caenlogg...</span></div>
<div class="tb" style="left:547.5px;width:249px;"><svg style="left:7px;top:5px;opacity:0.45" width="21" height="19" viewBox="0 0 22 20">
<rect x=".5" y=".5" width="21" height="19" rx="1.500" fill="#b5b7b3" stroke="#8a8c88"/>
<rect x="2.300" y="2.300" width="17.400" height="14.400" fill="#2f3532"/>
<path d="M4.500 5 l2.200 1.500 -2.200 1.500 M7.500 9.300 h3" stroke="#e8e8e8" stroke-width="1" fill="none"/></svg><span style="color:#8b8e8f;letter-spacing:-0.28px;top:.7px">[npg@carme-gsi:~/Programs/caenl...</span></div>
<div class="tb" style="left:801.5px;width:248px;"><svg style="left:8px;top:5px" width="20" height="19" viewBox="0 0 20 19"><path d="M1 1 h18 v15 l-2 2 h-16z" fill="#f6f6f6" stroke="#e0e0e0" stroke-width=".8"/><path d="M8 11 l2.500-3 2.500 3z" fill="#e0e0e0"/></svg><span style="color:#8b8e8f;letter-spacing:0px;top:.7px">[Gnuplot]</span></div>
<div class="tb" style="left:1054.5px;width:248px;"><svg style="left:7px;top:5px;opacity:1" width="21" height="19" viewBox="0 0 22 20">
<rect x=".5" y=".5" width="21" height="19" rx="1.500" fill="#b5b7b3" stroke="#8a8c88"/>
<rect x="2.300" y="2.300" width="17.400" height="14.400" fill="#2f3532"/>
<path d="M4.500 5 l2.200 1.500 -2.200 1.500 M7.500 9.300 h3" stroke="#e8e8e8" stroke-width="1" fill="none"/></svg><span style="color:#2e3436;letter-spacing:-0.35px;top:.7px">npg@carme-gsi:~/Programs/CAR...</span></div>
<div class="tb" style="left:1307.5px;width:248.5px;"><svg style="left:8px;top:4px;opacity:0.5" width="21" height="21" viewBox="0 0 16 16">
<rect width="16" height="16" rx=".8" fill="#ef443b"/>
<path d="M5.600 4.200 L9.400 8 L5.600 11.800 L1.800 8z" fill="#fff"/>
<path d="M9.200 3.300 L13.900 8 L9.200 12.700 L7.900 11.400 L11.300 8 L7.900 4.600z" fill="#fff"/></svg><span style="color:#8b8e8f;letter-spacing:-0.35px;top:.7px">[AnyDesk]</span></div>
<div class="ws" style="left:1569px"></div>
<div class="ws" style="left:1626px"></div>
<div class="ws" style="left:1683px"></div>
<div class="ws" style="left:1740px"></div>
<div class="ws" style="left:1796.5px;top:5px;height:27px;width:53px;background:#f5f5f3;border:2px solid #6c6c6c;box-shadow:none"></div>
<div class="ws" style="left:1854px"></div>
<div class="abs" style="left:1569px;top:6px;width:30px;height:14px;background:#dcdcdc"></div>
<div class="abs" style="left:1599px;top:7px;width:20px;height:12px;background:#ececec;border:1px solid #d2d2d2"></div>
<div class="abs" style="left:1570px;top:20px;width:50px;height:10px;background:#ececec;border:1px solid #d2d2d2"></div>
</div>
</div></body></html>
